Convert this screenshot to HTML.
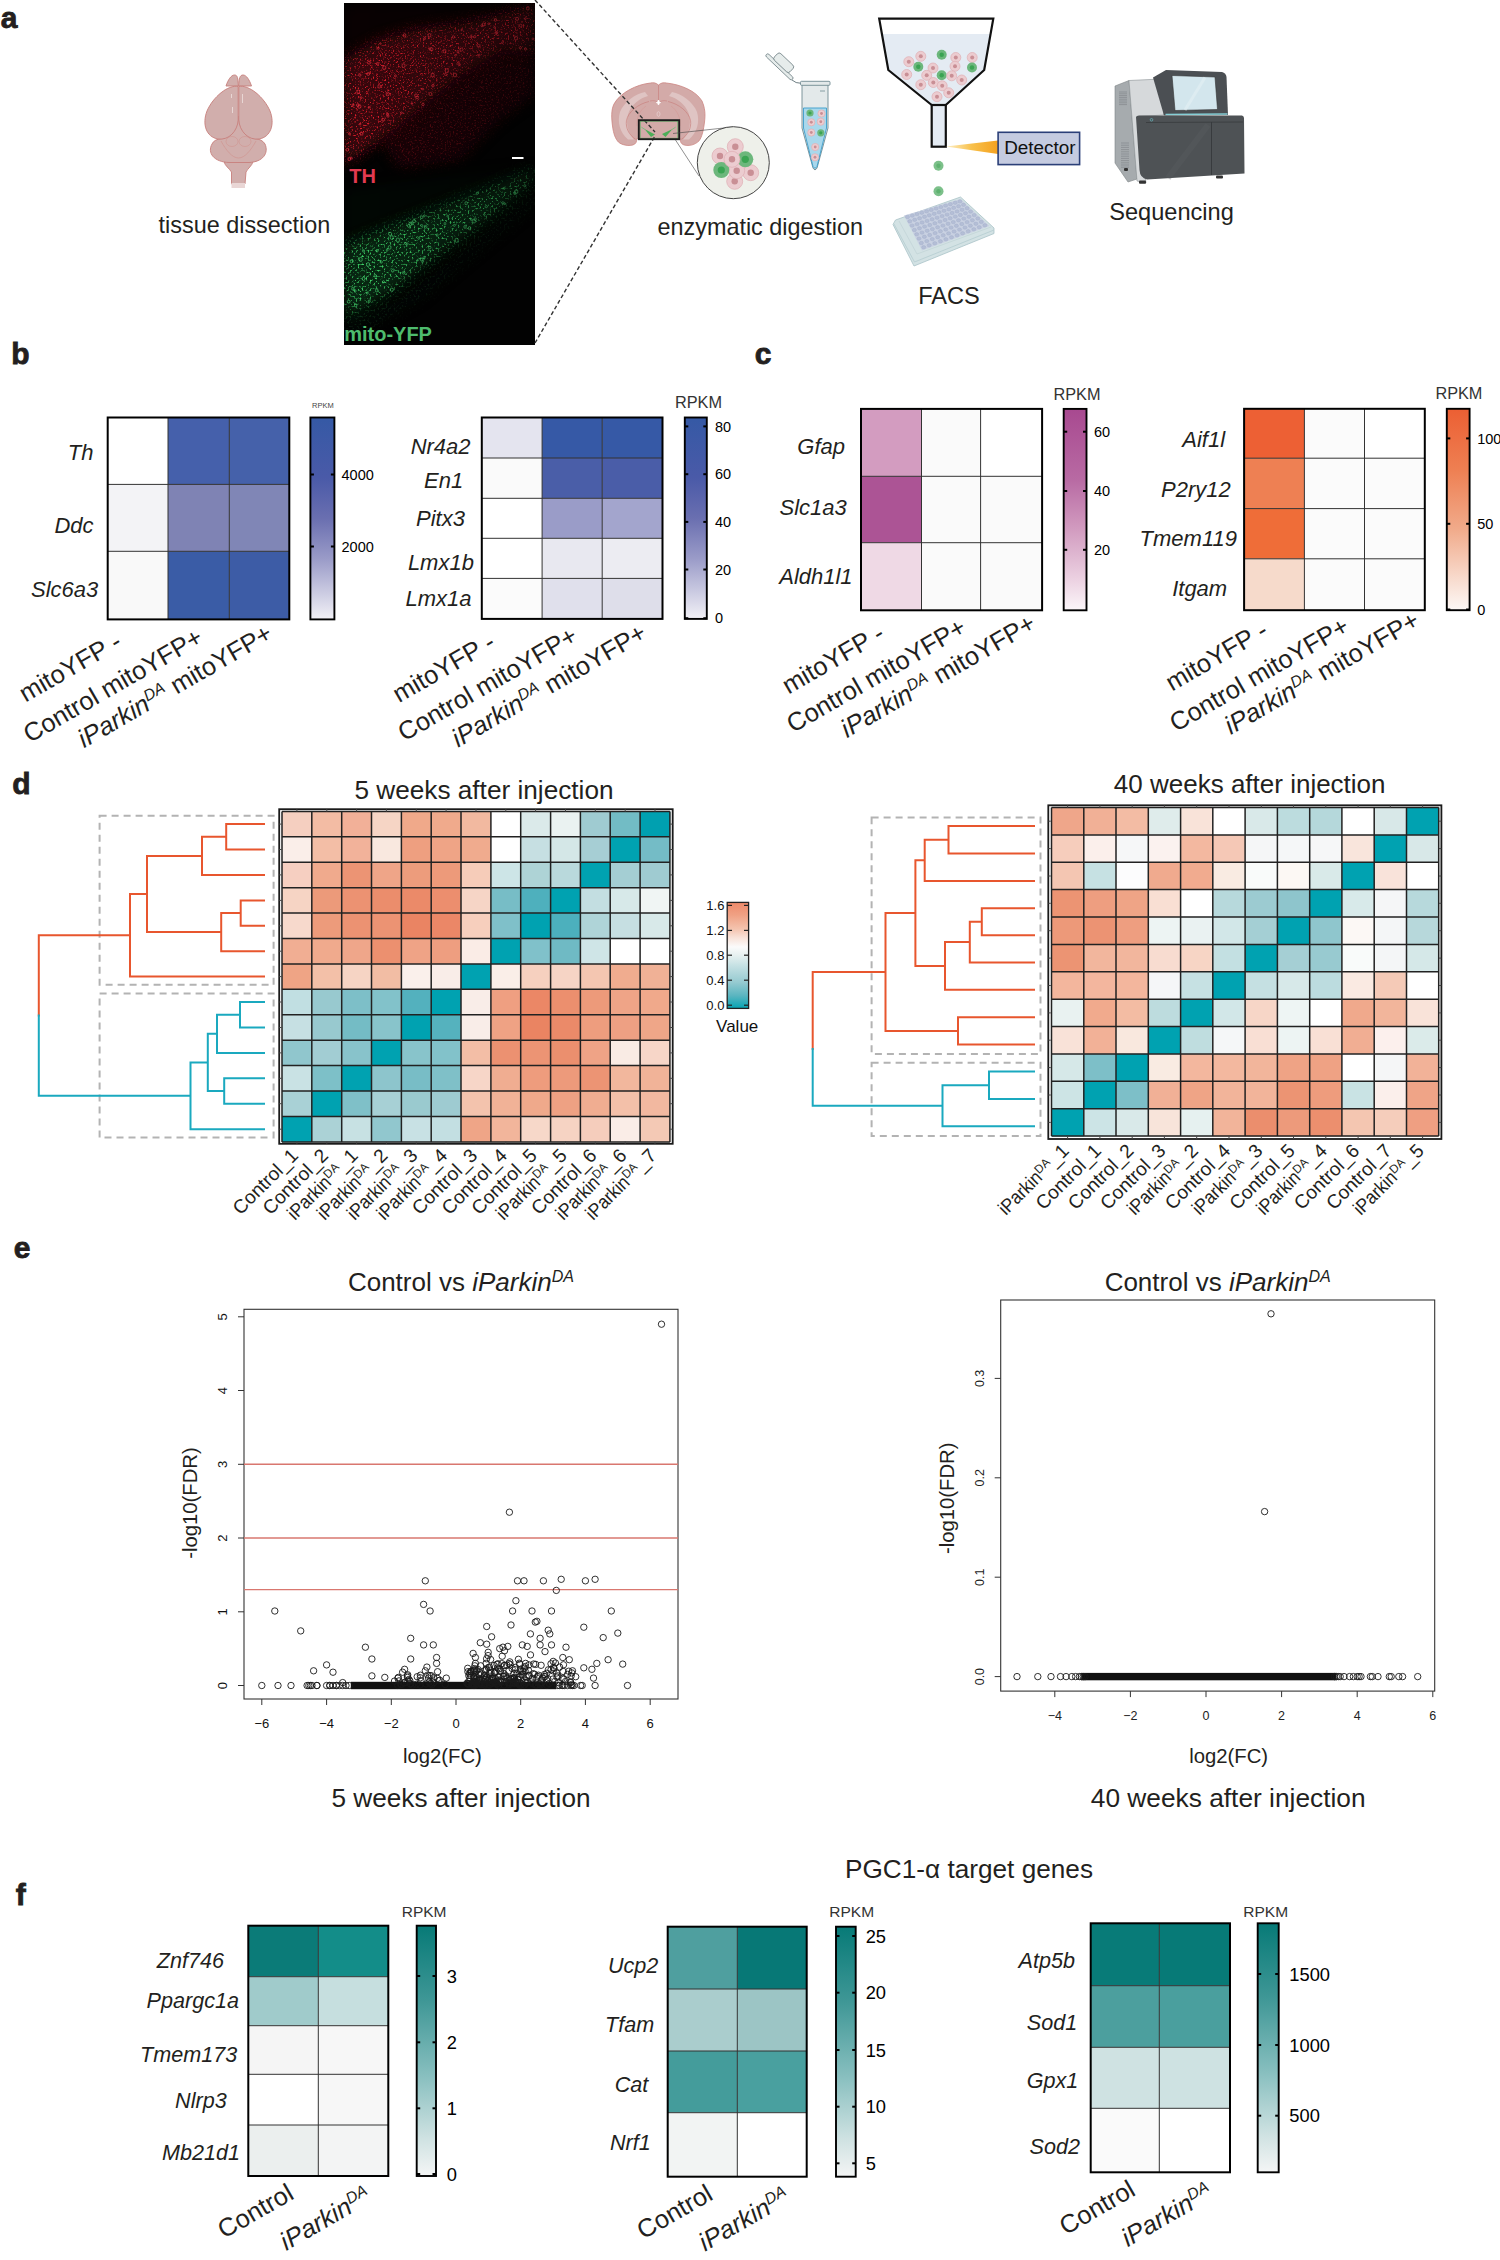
<!DOCTYPE html>
<html><head><meta charset="utf-8"><style>
html,body{margin:0;padding:0;background:#fff;}
svg{display:block;}
text{font-family:"Liberation Sans", sans-serif;fill:#231f20;}
</style></head><body>
<svg width="1500" height="2260" viewBox="0 0 1500 2260">
<rect width="1500" height="2260" fill="#fff"/>
<text x="0.8" y="28.2" font-size="30" font-weight="bold" stroke="#231f20" stroke-width="0.8">a</text>
<text x="11.3" y="363.7" font-size="30" font-weight="bold" stroke="#231f20" stroke-width="0.8">b</text>
<text x="754.8" y="363.7" font-size="30" font-weight="bold" stroke="#231f20" stroke-width="0.8">c</text>
<text x="12.3" y="793.7" font-size="30" font-weight="bold" stroke="#231f20" stroke-width="0.8">d</text>
<text x="13.8" y="1257.7" font-size="30" font-weight="bold" stroke="#231f20" stroke-width="0.8">e</text>
<text x="15.8" y="1904.7" font-size="30" font-weight="bold" stroke="#231f20" stroke-width="0.8">f</text>
<rect x="107.7" y="417.5" width="60.3" height="66.9" fill="#ffffff"/>
<rect x="168.0" y="417.5" width="61.3" height="66.9" fill="#4560ab"/>
<rect x="229.3" y="417.5" width="60.0" height="66.9" fill="#4561aa"/>
<rect x="107.7" y="484.4" width="60.3" height="66.9" fill="#f3f3f6"/>
<rect x="168.0" y="484.4" width="61.3" height="66.9" fill="#7f83b4"/>
<rect x="229.3" y="484.4" width="60.0" height="66.9" fill="#8086b6"/>
<rect x="107.7" y="551.3" width="60.3" height="68.1" fill="#f9f9f9"/>
<rect x="168.0" y="551.3" width="61.3" height="68.1" fill="#3a5ca6"/>
<rect x="229.3" y="551.3" width="60.0" height="68.1" fill="#3d5ca6"/>
<line x1="168.0" y1="417.5" x2="168.0" y2="619.4" stroke="#333" stroke-width="1"/>
<line x1="229.3" y1="417.5" x2="229.3" y2="619.4" stroke="#333" stroke-width="1"/>
<line x1="107.7" y1="484.4" x2="289.3" y2="484.4" stroke="#333" stroke-width="1"/>
<line x1="107.7" y1="551.3" x2="289.3" y2="551.3" stroke="#333" stroke-width="1"/>
<rect x="107.7" y="417.5" width="181.6" height="201.9" fill="none" stroke="#000" stroke-width="2.0"/>
<defs><linearGradient id="cb1" x1="0" y1="0" x2="0" y2="1">
<stop offset="0" stop-color="#3559a5"/>
<stop offset="0.3" stop-color="#4a5aa8"/>
<stop offset="0.5" stop-color="#6a6fb0"/>
<stop offset="0.7" stop-color="#9a9bc8"/>
<stop offset="1" stop-color="#f2f1f6"/>
</linearGradient></defs>
<rect x="310.4" y="417.5" width="24.0" height="201.9" fill="url(#cb1)" stroke="#000" stroke-width="1.9"/>
<line x1="310.4" y1="474.5" x2="313.9" y2="474.5" stroke="#000" stroke-width="2"/>
<line x1="330.9" y1="474.5" x2="334.4" y2="474.5" stroke="#000" stroke-width="2"/>
<text x="341.5" y="479.7" font-size="14.5" style="fill:#000">4000</text>
<line x1="310.4" y1="546.5" x2="313.9" y2="546.5" stroke="#000" stroke-width="2"/>
<line x1="330.9" y1="546.5" x2="334.4" y2="546.5" stroke="#000" stroke-width="2"/>
<text x="341.5" y="551.7" font-size="14.5" style="fill:#000">2000</text>
<text x="312.0" y="407.5" font-size="7.5" style="fill:#444">RPKM</text>
<text x="93.5" y="459.8" font-size="22" text-anchor="end" font-style="italic">Th</text>
<text x="93.5" y="532.8" font-size="22" text-anchor="end" font-style="italic">Ddc</text>
<text x="98.3" y="596.6" font-size="22" text-anchor="end" font-style="italic">Slc6a3</text>
<rect x="481.8" y="417.5" width="60.3" height="40.5" fill="#e4e4ef"/>
<rect x="542.1" y="417.5" width="60.1" height="40.5" fill="#3659a6"/>
<rect x="602.2" y="417.5" width="60.3" height="40.5" fill="#3659a6"/>
<rect x="481.8" y="458.0" width="60.3" height="40.3" fill="#fafafa"/>
<rect x="542.1" y="458.0" width="60.1" height="40.3" fill="#4a5ea8"/>
<rect x="602.2" y="458.0" width="60.3" height="40.3" fill="#4a5da8"/>
<rect x="481.8" y="498.3" width="60.3" height="40.0" fill="#ffffff"/>
<rect x="542.1" y="498.3" width="60.1" height="40.0" fill="#9a9cc8"/>
<rect x="602.2" y="498.3" width="60.3" height="40.0" fill="#a3a5cd"/>
<rect x="481.8" y="538.3" width="60.3" height="40.1" fill="#ffffff"/>
<rect x="542.1" y="538.3" width="60.1" height="40.1" fill="#e8e8f0"/>
<rect x="602.2" y="538.3" width="60.3" height="40.1" fill="#ececf2"/>
<rect x="481.8" y="578.4" width="60.3" height="40.5" fill="#fbfbfb"/>
<rect x="542.1" y="578.4" width="60.1" height="40.5" fill="#e0e0ec"/>
<rect x="602.2" y="578.4" width="60.3" height="40.5" fill="#dedeea"/>
<line x1="542.1" y1="417.5" x2="542.1" y2="618.9" stroke="#333" stroke-width="1"/>
<line x1="602.2" y1="417.5" x2="602.2" y2="618.9" stroke="#333" stroke-width="1"/>
<line x1="481.8" y1="458.0" x2="662.5" y2="458.0" stroke="#333" stroke-width="1"/>
<line x1="481.8" y1="498.3" x2="662.5" y2="498.3" stroke="#333" stroke-width="1"/>
<line x1="481.8" y1="538.3" x2="662.5" y2="538.3" stroke="#333" stroke-width="1"/>
<line x1="481.8" y1="578.4" x2="662.5" y2="578.4" stroke="#333" stroke-width="1"/>
<rect x="481.8" y="417.5" width="180.7" height="201.4" fill="none" stroke="#000" stroke-width="2.0"/>
<defs><linearGradient id="cb2" x1="0" y1="0" x2="0" y2="1">
<stop offset="0" stop-color="#3559a5"/>
<stop offset="0.3" stop-color="#4a5aa8"/>
<stop offset="0.5" stop-color="#6a6fb0"/>
<stop offset="0.7" stop-color="#9a9bc8"/>
<stop offset="1" stop-color="#f2f1f6"/>
</linearGradient></defs>
<rect x="684.8" y="417.5" width="22.0" height="201.4" fill="url(#cb2)" stroke="#000" stroke-width="1.9"/>
<line x1="684.8" y1="426.4" x2="688.3" y2="426.4" stroke="#000" stroke-width="2"/>
<line x1="703.3" y1="426.4" x2="706.8" y2="426.4" stroke="#000" stroke-width="2"/>
<text x="715.0" y="431.6" font-size="14.5" style="fill:#000">80</text>
<line x1="684.8" y1="474.2" x2="688.3" y2="474.2" stroke="#000" stroke-width="2"/>
<line x1="703.3" y1="474.2" x2="706.8" y2="474.2" stroke="#000" stroke-width="2"/>
<text x="715.0" y="479.4" font-size="14.5" style="fill:#000">60</text>
<line x1="684.8" y1="521.9" x2="688.3" y2="521.9" stroke="#000" stroke-width="2"/>
<line x1="703.3" y1="521.9" x2="706.8" y2="521.9" stroke="#000" stroke-width="2"/>
<text x="715.0" y="527.1" font-size="14.5" style="fill:#000">40</text>
<line x1="684.8" y1="569.5" x2="688.3" y2="569.5" stroke="#000" stroke-width="2"/>
<line x1="703.3" y1="569.5" x2="706.8" y2="569.5" stroke="#000" stroke-width="2"/>
<text x="715.0" y="574.7" font-size="14.5" style="fill:#000">20</text>
<line x1="684.8" y1="618.2" x2="688.3" y2="618.2" stroke="#000" stroke-width="2"/>
<line x1="703.3" y1="618.2" x2="706.8" y2="618.2" stroke="#000" stroke-width="2"/>
<text x="715.0" y="623.4" font-size="14.5" style="fill:#000">0</text>
<text x="675.0" y="407.9" font-size="16.3" style="fill:#333">RPKM</text>
<text x="440.6" y="453.5" font-size="22" text-anchor="middle" font-style="italic">Nr4a2</text>
<text x="443.6" y="488.4" font-size="22" text-anchor="middle" font-style="italic">En1</text>
<text x="440.5" y="525.7" font-size="22" text-anchor="middle" font-style="italic">Pitx3</text>
<text x="440.9" y="569.5" font-size="22" text-anchor="middle" font-style="italic">Lmx1b</text>
<text x="438.6" y="606.0" font-size="22" text-anchor="middle" font-style="italic">Lmx1a</text>
<text x="123.3" y="646.4" font-size="25.5" text-anchor="end" transform="rotate(-30 123.3 646.4)">mitoYFP -</text>
<text x="204.6" y="642.4" font-size="25.5" text-anchor="end" transform="rotate(-30 204.6 642.4)">Control mitoYFP+</text>
<text x="274.3" y="638.4" font-size="25.5" text-anchor="end" transform="rotate(-30 274.3 638.4)"><tspan font-style="italic">iParkin</tspan><tspan font-style="italic" font-size="0.62em" dy="-0.55em">DA</tspan><tspan dy="0.34em"> mitoYFP+</tspan></text>
<text x="496.9" y="646.9" font-size="25.5" text-anchor="end" transform="rotate(-30 496.9 646.9)">mitoYFP -</text>
<text x="579.1" y="640.9" font-size="25.5" text-anchor="end" transform="rotate(-30 579.1 640.9)">Control mitoYFP+</text>
<text x="648.3" y="637.9" font-size="25.5" text-anchor="end" transform="rotate(-30 648.3 637.9)"><tspan font-style="italic">iParkin</tspan><tspan font-style="italic" font-size="0.62em" dy="-0.55em">DA</tspan><tspan dy="0.34em"> mitoYFP+</tspan></text>
<rect x="861.0" y="408.9" width="60.5" height="67.4" fill="#d39cc0"/>
<rect x="921.5" y="408.9" width="59.1" height="67.4" fill="#fafafa"/>
<rect x="980.6" y="408.9" width="61.5" height="67.4" fill="#ffffff"/>
<rect x="861.0" y="476.3" width="60.5" height="66.4" fill="#ac5495"/>
<rect x="921.5" y="476.3" width="59.1" height="66.4" fill="#fafafa"/>
<rect x="980.6" y="476.3" width="61.5" height="66.4" fill="#fafafa"/>
<rect x="861.0" y="542.7" width="60.5" height="67.6" fill="#efd9e5"/>
<rect x="921.5" y="542.7" width="59.1" height="67.6" fill="#fafafa"/>
<rect x="980.6" y="542.7" width="61.5" height="67.6" fill="#fafafa"/>
<line x1="921.5" y1="408.9" x2="921.5" y2="610.3" stroke="#333" stroke-width="1"/>
<line x1="980.6" y1="408.9" x2="980.6" y2="610.3" stroke="#333" stroke-width="1"/>
<line x1="861.0" y1="476.3" x2="1042.1" y2="476.3" stroke="#333" stroke-width="1"/>
<line x1="861.0" y1="542.7" x2="1042.1" y2="542.7" stroke="#333" stroke-width="1"/>
<rect x="861.0" y="408.9" width="181.1" height="201.4" fill="none" stroke="#000" stroke-width="2.0"/>
<defs><linearGradient id="cb3" x1="0" y1="0" x2="0" y2="1">
<stop offset="0" stop-color="#a84990"/>
<stop offset="0.35" stop-color="#b86aa3"/>
<stop offset="0.6" stop-color="#d29cc0"/>
<stop offset="0.85" stop-color="#ecd2e2"/>
<stop offset="1" stop-color="#fbf6f9"/>
</linearGradient></defs>
<rect x="1063.7" y="408.9" width="22.8" height="201.4" fill="url(#cb3)" stroke="#000" stroke-width="1.9"/>
<line x1="1063.7" y1="431.7" x2="1067.2" y2="431.7" stroke="#000" stroke-width="2"/>
<line x1="1083.0" y1="431.7" x2="1086.5" y2="431.7" stroke="#000" stroke-width="2"/>
<text x="1094.0" y="436.9" font-size="14.5" style="fill:#000">60</text>
<line x1="1063.7" y1="491.0" x2="1067.2" y2="491.0" stroke="#000" stroke-width="2"/>
<line x1="1083.0" y1="491.0" x2="1086.5" y2="491.0" stroke="#000" stroke-width="2"/>
<text x="1094.0" y="496.2" font-size="14.5" style="fill:#000">40</text>
<line x1="1063.7" y1="549.8" x2="1067.2" y2="549.8" stroke="#000" stroke-width="2"/>
<line x1="1083.0" y1="549.8" x2="1086.5" y2="549.8" stroke="#000" stroke-width="2"/>
<text x="1094.0" y="555.0" font-size="14.5" style="fill:#000">20</text>
<text x="1053.5" y="399.5" font-size="16.3" style="fill:#333">RPKM</text>
<text x="845.0" y="453.5" font-size="22" text-anchor="end" font-style="italic">Gfap</text>
<text x="846.8" y="514.8" font-size="22" text-anchor="end" font-style="italic">Slc1a3</text>
<text x="852.6" y="583.7" font-size="22" text-anchor="end" font-style="italic">Aldh1l1</text>
<rect x="1244.1" y="408.8" width="60.3" height="49.4" fill="#ed6034"/>
<rect x="1304.4" y="408.8" width="60.1" height="49.4" fill="#fbfbfb"/>
<rect x="1364.5" y="408.8" width="60.3" height="49.4" fill="#ffffff"/>
<rect x="1244.1" y="458.2" width="60.3" height="50.4" fill="#ee8053"/>
<rect x="1304.4" y="458.2" width="60.1" height="50.4" fill="#fbfbfb"/>
<rect x="1364.5" y="458.2" width="60.3" height="50.4" fill="#fbfbfb"/>
<rect x="1244.1" y="508.6" width="60.3" height="50.2" fill="#ef6d38"/>
<rect x="1304.4" y="508.6" width="60.1" height="50.2" fill="#fbfbfb"/>
<rect x="1364.5" y="508.6" width="60.3" height="50.2" fill="#fbfbfb"/>
<rect x="1244.1" y="558.8" width="60.3" height="51.4" fill="#f6dacb"/>
<rect x="1304.4" y="558.8" width="60.1" height="51.4" fill="#fbfbfb"/>
<rect x="1364.5" y="558.8" width="60.3" height="51.4" fill="#fbfbfb"/>
<line x1="1304.4" y1="408.8" x2="1304.4" y2="610.2" stroke="#333" stroke-width="1"/>
<line x1="1364.5" y1="408.8" x2="1364.5" y2="610.2" stroke="#333" stroke-width="1"/>
<line x1="1244.1" y1="458.2" x2="1424.8" y2="458.2" stroke="#333" stroke-width="1"/>
<line x1="1244.1" y1="508.6" x2="1424.8" y2="508.6" stroke="#333" stroke-width="1"/>
<line x1="1244.1" y1="558.8" x2="1424.8" y2="558.8" stroke="#333" stroke-width="1"/>
<rect x="1244.1" y="408.8" width="180.7" height="201.4" fill="none" stroke="#000" stroke-width="2.0"/>
<defs><linearGradient id="cb4" x1="0" y1="0" x2="0" y2="1">
<stop offset="0" stop-color="#ec5f33"/>
<stop offset="0.3" stop-color="#ee7f52"/>
<stop offset="0.6" stop-color="#f1ab8b"/>
<stop offset="0.85" stop-color="#f8dccf"/>
<stop offset="1" stop-color="#fdf8f6"/>
</linearGradient></defs>
<rect x="1446.8" y="408.8" width="22.8" height="201.4" fill="url(#cb4)" stroke="#000" stroke-width="1.9"/>
<line x1="1446.8" y1="438.4" x2="1450.3" y2="438.4" stroke="#000" stroke-width="2"/>
<line x1="1466.1" y1="438.4" x2="1469.6" y2="438.4" stroke="#000" stroke-width="2"/>
<text x="1477.2" y="443.6" font-size="14.5" style="fill:#000">100</text>
<line x1="1446.8" y1="523.8" x2="1450.3" y2="523.8" stroke="#000" stroke-width="2"/>
<line x1="1466.1" y1="523.8" x2="1469.6" y2="523.8" stroke="#000" stroke-width="2"/>
<text x="1477.2" y="529.0" font-size="14.5" style="fill:#000">50</text>
<line x1="1446.8" y1="609.5" x2="1450.3" y2="609.5" stroke="#000" stroke-width="2"/>
<line x1="1466.1" y1="609.5" x2="1469.6" y2="609.5" stroke="#000" stroke-width="2"/>
<text x="1477.2" y="614.7" font-size="14.5" style="fill:#000">0</text>
<text x="1435.4" y="399.1" font-size="16.3" style="fill:#333">RPKM</text>
<text x="1225.1" y="447.3" font-size="22" text-anchor="end" font-style="italic">Aif1l</text>
<text x="1230.7" y="496.7" font-size="22" text-anchor="end" font-style="italic">P2ry12</text>
<text x="1237.0" y="546.0" font-size="22" text-anchor="end" font-style="italic">Tmem119</text>
<text x="1227.2" y="596.2" font-size="22" text-anchor="end" font-style="italic">Itgam</text>
<text x="886.2" y="638.3" font-size="25.5" text-anchor="end" transform="rotate(-30 886.2 638.3)">mitoYFP -</text>
<text x="968.0" y="632.3" font-size="25.5" text-anchor="end" transform="rotate(-30 968.0 632.3)">Control mitoYFP+</text>
<text x="1037.3" y="628.3" font-size="25.5" text-anchor="end" transform="rotate(-30 1037.3 628.3)"><tspan font-style="italic">iParkin</tspan><tspan font-style="italic" font-size="0.62em" dy="-0.55em">DA</tspan><tspan dy="0.34em"> mitoYFP+</tspan></text>
<text x="1269.7" y="635.2" font-size="25.5" text-anchor="end" transform="rotate(-30 1269.7 635.2)">mitoYFP -</text>
<text x="1350.9" y="631.2" font-size="25.5" text-anchor="end" transform="rotate(-30 1350.9 631.2)">Control mitoYFP+</text>
<text x="1421.1" y="625.2" font-size="25.5" text-anchor="end" transform="rotate(-30 1421.1 625.2)"><tspan font-style="italic">iParkin</tspan><tspan font-style="italic" font-size="0.62em" dy="-0.55em">DA</tspan><tspan dy="0.34em"> mitoYFP+</tspan></text>
<rect x="248.3" y="1925.7" width="70.0" height="51.0" fill="#0b7b78"/>
<rect x="318.3" y="1925.7" width="70.0" height="51.0" fill="#138d89"/>
<rect x="248.3" y="1976.7" width="70.0" height="49.0" fill="#a0cbcb"/>
<rect x="318.3" y="1976.7" width="70.0" height="49.0" fill="#c6dfdf"/>
<rect x="248.3" y="2025.7" width="70.0" height="48.6" fill="#f5f5f5"/>
<rect x="318.3" y="2025.7" width="70.0" height="48.6" fill="#f7f7f7"/>
<rect x="248.3" y="2074.3" width="70.0" height="50.7" fill="#ffffff"/>
<rect x="318.3" y="2074.3" width="70.0" height="50.7" fill="#f7f7f7"/>
<rect x="248.3" y="2125.0" width="70.0" height="51.0" fill="#ebefee"/>
<rect x="318.3" y="2125.0" width="70.0" height="51.0" fill="#f3f4f4"/>
<line x1="318.3" y1="1925.7" x2="318.3" y2="2176.0" stroke="#333" stroke-width="1"/>
<line x1="248.3" y1="1976.7" x2="388.3" y2="1976.7" stroke="#333" stroke-width="1"/>
<line x1="248.3" y1="2025.7" x2="388.3" y2="2025.7" stroke="#333" stroke-width="1"/>
<line x1="248.3" y1="2074.3" x2="388.3" y2="2074.3" stroke="#333" stroke-width="1"/>
<line x1="248.3" y1="2125.0" x2="388.3" y2="2125.0" stroke="#333" stroke-width="1"/>
<rect x="248.3" y="1925.7" width="140.0" height="250.3" fill="none" stroke="#000" stroke-width="2.0"/>
<defs><linearGradient id="cb5" x1="0" y1="0" x2="0" y2="1">
<stop offset="0" stop-color="#077a77"/>
<stop offset="0.3" stop-color="#3f9796"/>
<stop offset="0.6" stop-color="#88bfbf"/>
<stop offset="0.85" stop-color="#cfe2e2"/>
<stop offset="1" stop-color="#f4f5f5"/>
</linearGradient></defs>
<rect x="416.7" y="1925.7" width="19.3" height="250.3" fill="url(#cb5)" stroke="#000" stroke-width="1.9"/>
<line x1="416.7" y1="1976.0" x2="420.2" y2="1976.0" stroke="#000" stroke-width="2"/>
<line x1="432.5" y1="1976.0" x2="436.0" y2="1976.0" stroke="#000" stroke-width="2"/>
<text x="446.7" y="1982.6" font-size="18.3" style="fill:#000">3</text>
<line x1="416.7" y1="2042.3" x2="420.2" y2="2042.3" stroke="#000" stroke-width="2"/>
<line x1="432.5" y1="2042.3" x2="436.0" y2="2042.3" stroke="#000" stroke-width="2"/>
<text x="446.7" y="2048.9" font-size="18.3" style="fill:#000">2</text>
<line x1="416.7" y1="2108.3" x2="420.2" y2="2108.3" stroke="#000" stroke-width="2"/>
<line x1="432.5" y1="2108.3" x2="436.0" y2="2108.3" stroke="#000" stroke-width="2"/>
<text x="446.7" y="2114.9" font-size="18.3" style="fill:#000">1</text>
<line x1="416.7" y1="2174.0" x2="420.2" y2="2174.0" stroke="#000" stroke-width="2"/>
<line x1="432.5" y1="2174.0" x2="436.0" y2="2174.0" stroke="#000" stroke-width="2"/>
<text x="446.7" y="2180.6" font-size="18.3" style="fill:#000">0</text>
<text x="401.7" y="1916.7" font-size="15.5" style="fill:#333">RPKM</text>
<text x="224.0" y="1967.7" font-size="21.6" text-anchor="end" font-style="italic">Znf746</text>
<text x="239.0" y="2008.3" font-size="21.6" text-anchor="end" font-style="italic">Ppargc1a</text>
<text x="237.3" y="2062.3" font-size="21.6" text-anchor="end" font-style="italic">Tmem173</text>
<text x="226.7" y="2107.7" font-size="21.6" text-anchor="end" font-style="italic">Nlrp3</text>
<text x="240.0" y="2160.0" font-size="21.6" text-anchor="end" font-style="italic">Mb21d1</text>
<rect x="667.7" y="1926.7" width="69.6" height="62.3" fill="#4f9f9f"/>
<rect x="737.3" y="1926.7" width="69.4" height="62.3" fill="#077876"/>
<rect x="667.7" y="1989.0" width="69.6" height="62.0" fill="#aacdcd"/>
<rect x="737.3" y="1989.0" width="69.4" height="62.0" fill="#9cc5c5"/>
<rect x="667.7" y="2051.0" width="69.6" height="61.7" fill="#449c9b"/>
<rect x="737.3" y="2051.0" width="69.4" height="61.7" fill="#49a09f"/>
<rect x="667.7" y="2112.7" width="69.6" height="64.0" fill="#f2f4f3"/>
<rect x="737.3" y="2112.7" width="69.4" height="64.0" fill="#ffffff"/>
<line x1="737.3" y1="1926.7" x2="737.3" y2="2176.7" stroke="#333" stroke-width="1"/>
<line x1="667.7" y1="1989.0" x2="806.7" y2="1989.0" stroke="#333" stroke-width="1"/>
<line x1="667.7" y1="2051.0" x2="806.7" y2="2051.0" stroke="#333" stroke-width="1"/>
<line x1="667.7" y1="2112.7" x2="806.7" y2="2112.7" stroke="#333" stroke-width="1"/>
<rect x="667.7" y="1926.7" width="139.0" height="250.0" fill="none" stroke="#000" stroke-width="2.0"/>
<defs><linearGradient id="cb6" x1="0" y1="0" x2="0" y2="1">
<stop offset="0" stop-color="#077a77"/>
<stop offset="0.3" stop-color="#3f9796"/>
<stop offset="0.6" stop-color="#88bfbf"/>
<stop offset="0.85" stop-color="#cfe2e2"/>
<stop offset="1" stop-color="#f4f5f5"/>
</linearGradient></defs>
<rect x="836.0" y="1926.7" width="19.7" height="250.0" fill="url(#cb6)" stroke="#000" stroke-width="1.9"/>
<line x1="836.0" y1="1936.0" x2="839.5" y2="1936.0" stroke="#000" stroke-width="2"/>
<line x1="852.2" y1="1936.0" x2="855.7" y2="1936.0" stroke="#000" stroke-width="2"/>
<text x="865.7" y="1942.6" font-size="18.3" style="fill:#000">25</text>
<line x1="836.0" y1="1992.7" x2="839.5" y2="1992.7" stroke="#000" stroke-width="2"/>
<line x1="852.2" y1="1992.7" x2="855.7" y2="1992.7" stroke="#000" stroke-width="2"/>
<text x="865.7" y="1999.3" font-size="18.3" style="fill:#000">20</text>
<line x1="836.0" y1="2050.0" x2="839.5" y2="2050.0" stroke="#000" stroke-width="2"/>
<line x1="852.2" y1="2050.0" x2="855.7" y2="2050.0" stroke="#000" stroke-width="2"/>
<text x="865.7" y="2056.6" font-size="18.3" style="fill:#000">15</text>
<line x1="836.0" y1="2106.7" x2="839.5" y2="2106.7" stroke="#000" stroke-width="2"/>
<line x1="852.2" y1="2106.7" x2="855.7" y2="2106.7" stroke="#000" stroke-width="2"/>
<text x="865.7" y="2113.3" font-size="18.3" style="fill:#000">10</text>
<line x1="836.0" y1="2163.3" x2="839.5" y2="2163.3" stroke="#000" stroke-width="2"/>
<line x1="852.2" y1="2163.3" x2="855.7" y2="2163.3" stroke="#000" stroke-width="2"/>
<text x="865.7" y="2169.9" font-size="18.3" style="fill:#000">5</text>
<text x="829.3" y="1916.7" font-size="15.5" style="fill:#333">RPKM</text>
<text x="658.3" y="1973.3" font-size="21.6" text-anchor="end" font-style="italic">Ucp2</text>
<text x="654.3" y="2032.3" font-size="21.6" text-anchor="end" font-style="italic">Tfam</text>
<text x="648.3" y="2092.3" font-size="21.6" text-anchor="end" font-style="italic">Cat</text>
<text x="650.7" y="2150.0" font-size="21.6" text-anchor="end" font-style="italic">Nrf1</text>
<rect x="1090.7" y="1923.3" width="68.6" height="62.4" fill="#087b78"/>
<rect x="1159.3" y="1923.3" width="70.7" height="62.4" fill="#077a77"/>
<rect x="1090.7" y="1985.7" width="68.6" height="61.6" fill="#4c9f9e"/>
<rect x="1159.3" y="1985.7" width="70.7" height="61.6" fill="#4a9f9e"/>
<rect x="1090.7" y="2047.3" width="68.6" height="61.0" fill="#cfe2e2"/>
<rect x="1159.3" y="2047.3" width="70.7" height="61.0" fill="#cee2e2"/>
<rect x="1090.7" y="2108.3" width="68.6" height="64.0" fill="#fafafa"/>
<rect x="1159.3" y="2108.3" width="70.7" height="64.0" fill="#ffffff"/>
<line x1="1159.3" y1="1923.3" x2="1159.3" y2="2172.3" stroke="#333" stroke-width="1"/>
<line x1="1090.7" y1="1985.7" x2="1230.0" y2="1985.7" stroke="#333" stroke-width="1"/>
<line x1="1090.7" y1="2047.3" x2="1230.0" y2="2047.3" stroke="#333" stroke-width="1"/>
<line x1="1090.7" y1="2108.3" x2="1230.0" y2="2108.3" stroke="#333" stroke-width="1"/>
<rect x="1090.7" y="1923.3" width="139.3" height="249.0" fill="none" stroke="#000" stroke-width="2.0"/>
<defs><linearGradient id="cb7" x1="0" y1="0" x2="0" y2="1">
<stop offset="0" stop-color="#077a77"/>
<stop offset="0.3" stop-color="#3f9796"/>
<stop offset="0.6" stop-color="#88bfbf"/>
<stop offset="0.85" stop-color="#cfe2e2"/>
<stop offset="1" stop-color="#f4f5f5"/>
</linearGradient></defs>
<rect x="1257.7" y="1923.3" width="21.0" height="249.0" fill="url(#cb7)" stroke="#000" stroke-width="1.9"/>
<line x1="1257.7" y1="1974.0" x2="1261.2" y2="1974.0" stroke="#000" stroke-width="2"/>
<line x1="1275.2" y1="1974.0" x2="1278.7" y2="1974.0" stroke="#000" stroke-width="2"/>
<text x="1289.3" y="1980.6" font-size="18.3" style="fill:#000">1500</text>
<line x1="1257.7" y1="2045.0" x2="1261.2" y2="2045.0" stroke="#000" stroke-width="2"/>
<line x1="1275.2" y1="2045.0" x2="1278.7" y2="2045.0" stroke="#000" stroke-width="2"/>
<text x="1289.3" y="2051.6" font-size="18.3" style="fill:#000">1000</text>
<line x1="1257.7" y1="2115.7" x2="1261.2" y2="2115.7" stroke="#000" stroke-width="2"/>
<line x1="1275.2" y1="2115.7" x2="1278.7" y2="2115.7" stroke="#000" stroke-width="2"/>
<text x="1289.3" y="2122.3" font-size="18.3" style="fill:#000">500</text>
<text x="1243.3" y="1916.7" font-size="15.5" style="fill:#333">RPKM</text>
<text x="1075.0" y="1967.7" font-size="21.6" text-anchor="end" font-style="italic">Atp5b</text>
<text x="1077.3" y="2030.0" font-size="21.6" text-anchor="end" font-style="italic">Sod1</text>
<text x="1078.3" y="2088.3" font-size="21.6" text-anchor="end" font-style="italic">Gpx1</text>
<text x="1080.0" y="2154.0" font-size="21.6" text-anchor="end" font-style="italic">Sod2</text>
<text x="969.0" y="1878.3" font-size="26.2" text-anchor="middle">PGC1-α target genes</text>
<text x="295.3" y="2198.0" font-size="25.5" text-anchor="end" transform="rotate(-30 295.3 2198.0)">Control</text>
<text x="372.8" y="2201.0" font-size="25.5" text-anchor="end" transform="rotate(-30 372.8 2201.0)"><tspan font-style="italic">iParkin</tspan><tspan font-style="italic" font-size="0.62em" dy="-0.55em">DA</tspan></text>
<text x="714.5" y="2198.7" font-size="25.5" text-anchor="end" transform="rotate(-30 714.5 2198.7)">Control</text>
<text x="791.5" y="2201.7" font-size="25.5" text-anchor="end" transform="rotate(-30 791.5 2201.7)"><tspan font-style="italic">iParkin</tspan><tspan font-style="italic" font-size="0.62em" dy="-0.55em">DA</tspan></text>
<text x="1137.0" y="2194.3" font-size="25.5" text-anchor="end" transform="rotate(-30 1137.0 2194.3)">Control</text>
<text x="1214.2" y="2197.3" font-size="25.5" text-anchor="end" transform="rotate(-30 1214.2 2197.3)"><tspan font-style="italic">iParkin</tspan><tspan font-style="italic" font-size="0.62em" dy="-0.55em">DA</tspan></text>
<g stroke="#c77f7c" stroke-width="0.9" fill="#d1aeac">
<path d="M224 161.5 L253 161.5 C252 166 248 168 246 172 L245 184 L231.5 184 L231.5 172 C229 168 225 166 224 161.5 Z"/>
<rect x="231.5" y="183" width="13.5" height="5" fill="#e9d6d5" stroke="none"/>
<path d="M212 144 C207 153 214 162 229 162.5 L249 162.5 C263 162 269 153 265 144 C261 137 250 138 238.5 139 C227 138 215 137 212 144 Z"/>
<path d="M221 141 C226 150 232 158 238.5 158 C245 158 251 150 256 141" fill="none" stroke="#d09591" stroke-width="0.7"/>
<path d="M227 116 L250 116 L254 141 L223 141 Z" stroke="none"/>
<ellipse cx="232" cy="141.5" rx="6" ry="5" stroke="#d09591" stroke-width="0.6"/>
<ellipse cx="245" cy="141.5" rx="6" ry="5" stroke="#d09591" stroke-width="0.6"/>
<path d="M226 86 C228 80 231 75 234.5 75 C237.5 75 238 78 238.3 86 Z"/>
<path d="M251.5 86 C249.5 80 246.5 75 243 75 C240 75 239 78 238.7 86 Z"/>
<path d="M238.2 86.5 C228 84.5 213 97 207 111 C202 124 206 137 218 139 C229 140.5 237.5 131 238.2 120 Z"/>
<path d="M238.8 86.5 C249 84.5 264 97 270 111 C275 124 271 137 259 139 C248 140.5 239.5 131 238.8 120 Z"/>
</g>
<path d="M231.5 94 v4 M232.5 107 v6 M242.5 94 v9" stroke="#f2e6e5" stroke-width="0.7"/>
<defs>
<filter id="nzR" x="0" y="0" width="100%" height="100%" color-interpolation-filters="sRGB">
<feTurbulence type="fractalNoise" baseFrequency="0.6" numOctaves="3" seed="4" result="t"/>
<feColorMatrix in="t" type="matrix" values="0 0 0 0 0.92  0 0 0 0 0.12  0 0 0 0 0.18  4.2 0 0 0 -2.3"/>
<feComposite in2="SourceGraphic" operator="in"/>
</filter>
<filter id="nzG" x="0" y="0" width="100%" height="100%" color-interpolation-filters="sRGB">
<feTurbulence type="fractalNoise" baseFrequency="0.5" numOctaves="3" seed="9" result="t"/>
<feColorMatrix in="t" type="matrix" values="0 0 0 0 0.25  0 0 0 0 0.85  0 0 0 0 0.42  4.6 0 0 0 -2.45"/>
<feComposite in2="SourceGraphic" operator="in"/>
</filter>
<filter id="bl6" x="-20%" y="-20%" width="140%" height="140%"><feGaussianBlur stdDeviation="7"/></filter>
<linearGradient id="fadeL" x1="0" y1="0" x2="1" y2="0"><stop offset="0" stop-color="#fff" stop-opacity="1"/><stop offset="1" stop-color="#fff" stop-opacity="0.55"/></linearGradient>
<mask id="mL"><rect x="344" y="3" width="191" height="342" fill="url(#fadeL)"/></mask>
<mask id="mR" maskUnits="userSpaceOnUse" x="344" y="3" width="191" height="342"><path d="M344 60 L380 40 L420 29 L460 24 L493 17 L535 5 L535 52 L500 50 L487 60 L460 75 L420 107 L380 140 L344 164 Z" fill="#fff" filter="url(#bl6)"/><path d="M420 107 L460 75 L500 50 L535 52 L535 95 L500 120 L460 160 L400 168 L380 140 Z" fill="#555" filter="url(#bl6)"/></mask>
<mask id="mG" maskUnits="userSpaceOnUse" x="344" y="3" width="191" height="342"><path d="M344 247 L387 229 L420 216 L460 200 L493 187 L535 169 L535 178 L507 204 L487 220 L460 240 L427 264 L393 291 L344 318 Z" fill="#fff" filter="url(#bl6)"/><path d="M344 320 L400 300 L450 262 L500 218 L535 188 L535 205 L480 250 L420 300 L360 332 L344 335 Z" fill="#333" filter="url(#bl6)"/></mask>
</defs>
<rect x="344" y="3" width="191" height="342" fill="#020202"/>
<g mask="url(#mL)">
<path d="M344 5 L535 3 L535 8 L440 28 L344 55 Z" fill="#3a0509" filter="url(#bl6)" opacity="0.15"/>
<path d="M420 107 L460 75 L500 50 L535 52 L535 95 L500 120 L460 160 L400 168 L380 140 Z" fill="#3a0509" filter="url(#bl6)" opacity="0.45"/>
<path d="M344 60 L380 40 L420 29 L460 24 L493 17 L535 5 L535 52 L500 50 L487 60 L460 75 L420 107 L380 140 L344 164 Z" fill="#5e0a12" filter="url(#bl6)" opacity="0.6"/>
<path d="M344 190 L450 176 L535 168 L535 172 L500 188 L450 209 L400 226 L344 250 Z" fill="#06200f" filter="url(#bl6)" opacity="0.2"/>
<path d="M344 247 L387 229 L420 216 L460 200 L493 187 L535 169 L535 178 L507 204 L487 220 L460 240 L427 264 L393 291 L344 318 Z" fill="#0c4a22" filter="url(#bl6)" opacity="0.55"/>
<path d="M344 320 L400 300 L450 262 L500 218 L535 188 L535 205 L480 250 L420 300 L360 332 L344 335 Z" fill="#06200f" filter="url(#bl6)" opacity="0.2"/>
<g mask="url(#mR)"><rect x="344" y="3" width="191" height="180" fill="#fff" filter="url(#nzR)"/></g>
<g mask="url(#mG)"><rect x="344" y="160" width="191" height="185" fill="#fff" filter="url(#nzG)"/></g>
<path d="M428.9 94.0a1.5 1.5 0 1 0 3.1 0a1.5 1.5 0 1 0 -3.1 0M431.7 85.7a1.2 1.2 0 1 0 2.5 0a1.2 1.2 0 1 0 -2.5 0M378.0 86.4a1.3 1.3 0 1 0 2.5 0a1.3 1.3 0 1 0 -2.5 0M494.5 20.0a1.0 1.0 0 1 0 1.9 0a1.0 1.0 0 1 0 -1.9 0M360.0 133.7a1.3 1.3 0 1 0 2.6 0a1.3 1.3 0 1 0 -2.6 0M460.9 30.0a0.7 0.7 0 1 0 1.4 0a0.7 0.7 0 1 0 -1.4 0M379.6 43.5a0.7 0.7 0 1 0 1.5 0a0.7 0.7 0 1 0 -1.5 0M431.2 75.0a1.5 1.5 0 1 0 2.9 0a1.5 1.5 0 1 0 -2.9 0M429.8 49.2a1.6 1.6 0 1 0 3.2 0a1.6 1.6 0 1 0 -3.2 0M478.3 55.1a0.9 0.9 0 1 0 1.8 0a0.9 0.9 0 1 0 -1.8 0M356.5 105.1a1.4 1.4 0 1 0 2.8 0a1.4 1.4 0 1 0 -2.8 0M487.9 23.8a0.9 0.9 0 1 0 1.8 0a0.9 0.9 0 1 0 -1.8 0M495.0 33.3a1.2 1.2 0 1 0 2.4 0a1.2 1.2 0 1 0 -2.4 0M428.1 35.3a1.4 1.4 0 1 0 2.7 0a1.4 1.4 0 1 0 -2.7 0M368.2 107.4a0.8 0.8 0 1 0 1.6 0a0.8 0.8 0 1 0 -1.6 0M423.4 38.8a0.9 0.9 0 1 0 1.9 0a0.9 0.9 0 1 0 -1.9 0M382.8 67.7a1.5 1.5 0 1 0 2.9 0a1.5 1.5 0 1 0 -2.9 0M532.0 38.9a0.9 0.9 0 1 0 1.9 0a0.9 0.9 0 1 0 -1.9 0M360.3 97.7a0.9 0.9 0 1 0 1.8 0a0.9 0.9 0 1 0 -1.8 0M457.7 64.1a1.1 1.1 0 1 0 2.2 0a1.1 1.1 0 1 0 -2.2 0M350.5 158.1a0.9 0.9 0 1 0 1.8 0a0.9 0.9 0 1 0 -1.8 0M477.1 45.9a1.4 1.4 0 1 0 2.9 0a1.4 1.4 0 1 0 -2.9 0M457.1 51.7a0.9 0.9 0 1 0 1.7 0a0.9 0.9 0 1 0 -1.7 0M386.2 93.9a1.5 1.5 0 1 0 2.9 0a1.5 1.5 0 1 0 -2.9 0M459.8 49.6a1.5 1.5 0 1 0 3.1 0a1.5 1.5 0 1 0 -3.1 0M394.7 75.9a0.8 0.8 0 1 0 1.5 0a0.8 0.8 0 1 0 -1.5 0M376.4 63.6a1.2 1.2 0 1 0 2.4 0a1.2 1.2 0 1 0 -2.4 0M367.6 62.6a1.5 1.5 0 1 0 3.0 0a1.5 1.5 0 1 0 -3.0 0M346.1 149.7a1.3 1.3 0 1 0 2.7 0a1.3 1.3 0 1 0 -2.7 0M526.6 8.4a1.3 1.3 0 1 0 2.5 0a1.3 1.3 0 1 0 -2.5 0M357.0 91.8a1.4 1.4 0 1 0 2.7 0a1.4 1.4 0 1 0 -2.7 0M415.8 97.6a1.2 1.2 0 1 0 2.5 0a1.2 1.2 0 1 0 -2.5 0M357.7 106.7a1.6 1.6 0 1 0 3.2 0a1.6 1.6 0 1 0 -3.2 0M453.5 75.0a1.5 1.5 0 1 0 2.9 0a1.5 1.5 0 1 0 -2.9 0M359.3 124.3a0.7 0.7 0 1 0 1.5 0a0.7 0.7 0 1 0 -1.5 0M386.8 116.0a1.1 1.1 0 1 0 2.3 0a1.1 1.1 0 1 0 -2.3 0M400.6 112.8a0.9 0.9 0 1 0 1.8 0a0.9 0.9 0 1 0 -1.8 0M470.1 36.6a1.1 1.1 0 1 0 2.2 0a1.1 1.1 0 1 0 -2.2 0M454.6 55.3a0.8 0.8 0 1 0 1.6 0a0.8 0.8 0 1 0 -1.6 0M524.6 49.0a0.9 0.9 0 1 0 1.7 0a0.9 0.9 0 1 0 -1.7 0M429.2 48.8a0.9 0.9 0 1 0 1.8 0a0.9 0.9 0 1 0 -1.8 0M421.9 104.5a1.1 1.1 0 1 0 2.3 0a1.1 1.1 0 1 0 -2.3 0M501.6 42.7a0.8 0.8 0 1 0 1.7 0a0.8 0.8 0 1 0 -1.7 0M351.9 105.0a1.1 1.1 0 1 0 2.2 0a1.1 1.1 0 1 0 -2.2 0M473.6 36.7a1.1 1.1 0 1 0 2.3 0a1.1 1.1 0 1 0 -2.3 0M377.2 48.3a1.0 1.0 0 1 0 2.0 0a1.0 1.0 0 1 0 -2.0 0M515.6 18.9a1.5 1.5 0 1 0 3.1 0a1.5 1.5 0 1 0 -3.1 0M480.9 25.7a1.1 1.1 0 1 0 2.2 0a1.1 1.1 0 1 0 -2.2 0M414.5 95.4a1.5 1.5 0 1 0 3.0 0a1.5 1.5 0 1 0 -3.0 0M381.7 119.8a1.4 1.4 0 1 0 2.9 0a1.4 1.4 0 1 0 -2.9 0M358.6 75.1a1.2 1.2 0 1 0 2.4 0a1.2 1.2 0 1 0 -2.4 0M348.7 133.7a0.8 0.8 0 1 0 1.5 0a0.8 0.8 0 1 0 -1.5 0M495.8 32.5a1.0 1.0 0 1 0 2.0 0a1.0 1.0 0 1 0 -2.0 0M493.7 27.3a0.8 0.8 0 1 0 1.7 0a0.8 0.8 0 1 0 -1.7 0M524.4 18.7a0.9 0.9 0 1 0 1.8 0a0.9 0.9 0 1 0 -1.8 0M443.2 51.1a1.4 1.4 0 1 0 2.7 0a1.4 1.4 0 1 0 -2.7 0M402.1 65.6a1.5 1.5 0 1 0 2.9 0a1.5 1.5 0 1 0 -2.9 0M514.5 38.1a1.5 1.5 0 1 0 2.9 0a1.5 1.5 0 1 0 -2.9 0M452.3 37.0a1.2 1.2 0 1 0 2.4 0a1.2 1.2 0 1 0 -2.4 0M348.1 159.1a1.2 1.2 0 1 0 2.3 0a1.2 1.2 0 1 0 -2.3 0M445.3 70.8a1.6 1.6 0 1 0 3.1 0a1.6 1.6 0 1 0 -3.1 0M519.2 47.8a1.1 1.1 0 1 0 2.3 0a1.1 1.1 0 1 0 -2.3 0M366.8 74.0a1.4 1.4 0 1 0 2.9 0a1.4 1.4 0 1 0 -2.9 0M403.3 35.4a1.3 1.3 0 1 0 2.5 0a1.3 1.3 0 1 0 -2.5 0M519.3 25.6a1.4 1.4 0 1 0 2.8 0a1.4 1.4 0 1 0 -2.8 0M386.4 114.2a1.0 1.0 0 1 0 2.0 0a1.0 1.0 0 1 0 -2.0 0M411.1 103.5a0.8 0.8 0 1 0 1.6 0a0.8 0.8 0 1 0 -1.6 0M482.4 24.5a1.2 1.2 0 1 0 2.3 0a1.2 1.2 0 1 0 -2.3 0M444.3 74.4a1.0 1.0 0 1 0 2.1 0a1.0 1.0 0 1 0 -2.1 0M422.1 89.2a0.8 0.8 0 1 0 1.7 0a0.8 0.8 0 1 0 -1.7 0" fill="none" stroke="#f03040" stroke-width="0.8" opacity="0.85"/>
<path d="M354.5 291.0a0.8 0.8 0 1 0 1.5 0a0.8 0.8 0 1 0 -1.5 0M474.1 219.2a1.1 1.1 0 1 0 2.1 0a1.1 1.1 0 1 0 -2.1 0M354.5 305.3a1.2 1.2 0 1 0 2.3 0a1.2 1.2 0 1 0 -2.3 0M523.7 185.8a1.1 1.1 0 1 0 2.2 0a1.1 1.1 0 1 0 -2.2 0M375.6 290.5a1.1 1.1 0 1 0 2.1 0a1.1 1.1 0 1 0 -2.1 0M422.9 257.8a1.1 1.1 0 1 0 2.3 0a1.1 1.1 0 1 0 -2.3 0M410.7 223.1a1.3 1.3 0 1 0 2.6 0a1.3 1.3 0 1 0 -2.6 0M424.2 226.8a1.4 1.4 0 1 0 2.8 0a1.4 1.4 0 1 0 -2.8 0M362.7 250.9a0.9 0.9 0 1 0 1.7 0a0.9 0.9 0 1 0 -1.7 0M396.3 240.0a1.6 1.6 0 1 0 3.1 0a1.6 1.6 0 1 0 -3.1 0M350.1 261.2a1.6 1.6 0 1 0 3.2 0a1.6 1.6 0 1 0 -3.2 0M465.0 203.2a1.2 1.2 0 1 0 2.3 0a1.2 1.2 0 1 0 -2.3 0M513.9 193.2a1.0 1.0 0 1 0 1.9 0a1.0 1.0 0 1 0 -1.9 0M391.4 270.8a1.3 1.3 0 1 0 2.6 0a1.3 1.3 0 1 0 -2.6 0M368.1 301.1a1.1 1.1 0 1 0 2.2 0a1.1 1.1 0 1 0 -2.2 0M388.5 233.9a1.6 1.6 0 1 0 3.2 0a1.6 1.6 0 1 0 -3.2 0M409.0 223.9a1.4 1.4 0 1 0 2.7 0a1.4 1.4 0 1 0 -2.7 0M420.4 217.2a1.3 1.3 0 1 0 2.6 0a1.3 1.3 0 1 0 -2.6 0M402.3 272.7a1.4 1.4 0 1 0 2.8 0a1.4 1.4 0 1 0 -2.8 0M436.3 235.1a0.9 0.9 0 1 0 1.7 0a0.9 0.9 0 1 0 -1.7 0M470.6 219.8a0.9 0.9 0 1 0 1.8 0a0.9 0.9 0 1 0 -1.8 0M476.2 193.2a1.1 1.1 0 1 0 2.2 0a1.1 1.1 0 1 0 -2.2 0M390.3 237.5a1.5 1.5 0 1 0 2.9 0a1.5 1.5 0 1 0 -2.9 0M501.7 202.9a1.2 1.2 0 1 0 2.4 0a1.2 1.2 0 1 0 -2.4 0M472.7 221.2a1.4 1.4 0 1 0 2.7 0a1.4 1.4 0 1 0 -2.7 0M404.5 243.5a1.0 1.0 0 1 0 2.0 0a1.0 1.0 0 1 0 -2.0 0M386.2 250.1a0.9 0.9 0 1 0 1.9 0a0.9 0.9 0 1 0 -1.9 0M351.8 288.7a1.0 1.0 0 1 0 1.9 0a1.0 1.0 0 1 0 -1.9 0M366.6 264.5a1.5 1.5 0 1 0 2.9 0a1.5 1.5 0 1 0 -2.9 0M421.8 261.1a0.9 0.9 0 1 0 1.9 0a0.9 0.9 0 1 0 -1.9 0M420.7 225.6a1.0 1.0 0 1 0 2.1 0a1.0 1.0 0 1 0 -2.1 0M483.5 214.5a0.8 0.8 0 1 0 1.6 0a0.8 0.8 0 1 0 -1.6 0M374.2 275.7a1.0 1.0 0 1 0 1.9 0a1.0 1.0 0 1 0 -1.9 0M428.4 247.6a1.3 1.3 0 1 0 2.6 0a1.3 1.3 0 1 0 -2.6 0M464.0 226.9a1.1 1.1 0 1 0 2.1 0a1.1 1.1 0 1 0 -2.1 0M420.1 259.5a1.4 1.4 0 1 0 2.8 0a1.4 1.4 0 1 0 -2.8 0M503.5 188.3a0.8 0.8 0 1 0 1.5 0a0.8 0.8 0 1 0 -1.5 0M382.4 281.8a1.1 1.1 0 1 0 2.2 0a1.1 1.1 0 1 0 -2.2 0M446.8 216.1a0.9 0.9 0 1 0 1.8 0a0.9 0.9 0 1 0 -1.8 0M359.1 259.4a1.6 1.6 0 1 0 3.1 0a1.6 1.6 0 1 0 -3.1 0M407.4 225.9a1.5 1.5 0 1 0 3.0 0a1.5 1.5 0 1 0 -3.0 0M380.0 262.0a1.2 1.2 0 1 0 2.4 0a1.2 1.2 0 1 0 -2.4 0M416.8 260.2a0.8 0.8 0 1 0 1.6 0a0.8 0.8 0 1 0 -1.6 0M485.2 206.6a1.1 1.1 0 1 0 2.2 0a1.1 1.1 0 1 0 -2.2 0M362.3 278.8a1.3 1.3 0 1 0 2.5 0a1.3 1.3 0 1 0 -2.5 0M375.8 250.7a1.2 1.2 0 1 0 2.5 0a1.2 1.2 0 1 0 -2.5 0M453.3 225.4a1.0 1.0 0 1 0 2.0 0a1.0 1.0 0 1 0 -2.0 0M406.0 243.9a1.1 1.1 0 1 0 2.2 0a1.1 1.1 0 1 0 -2.2 0M412.6 221.1a1.5 1.5 0 1 0 3.1 0a1.5 1.5 0 1 0 -3.1 0M468.4 228.2a1.2 1.2 0 1 0 2.3 0a1.2 1.2 0 1 0 -2.3 0M390.2 289.7a1.6 1.6 0 1 0 3.2 0a1.6 1.6 0 1 0 -3.2 0M503.8 203.7a0.9 0.9 0 1 0 1.8 0a0.9 0.9 0 1 0 -1.8 0M455.1 240.3a1.6 1.6 0 1 0 3.1 0a1.6 1.6 0 1 0 -3.1 0M417.8 238.3a1.0 1.0 0 1 0 2.0 0a1.0 1.0 0 1 0 -2.0 0M388.3 247.4a1.4 1.4 0 1 0 2.7 0a1.4 1.4 0 1 0 -2.7 0M347.3 301.7a1.4 1.4 0 1 0 2.8 0a1.4 1.4 0 1 0 -2.8 0M514.9 191.6a1.5 1.5 0 1 0 2.9 0a1.5 1.5 0 1 0 -2.9 0M423.4 215.8a0.9 0.9 0 1 0 1.9 0a0.9 0.9 0 1 0 -1.9 0M366.2 293.0a1.0 1.0 0 1 0 2.1 0a1.0 1.0 0 1 0 -2.1 0M444.1 223.7a0.9 0.9 0 1 0 1.7 0a0.9 0.9 0 1 0 -1.7 0" fill="none" stroke="#48d070" stroke-width="0.8" opacity="0.85"/>
</g>
<rect x="512" y="157" width="11.5" height="2" fill="#fff"/>
<text x="349.2" y="182.7" font-size="20" font-weight="bold" style="fill:#e23a50">TH</text>
<text x="344.2" y="341.0" font-size="20" font-weight="bold" style="fill:#4ebb6d">mito-YFP</text>
<g>
<path d="M658.5 85.1 C656 82.5 653 82.6 650.6 83 C636 84.5 620 93 614 104 C611 110 611.5 118 612.5 126 C613.5 134 615.5 139 618.6 142.2 C622 145 628 146.2 632.8 145 C636 144 637 141.5 636.4 138.6 L680.6 138.6 C680 141.5 681 144 684.2 145 C689 146.2 695 145 699.1 140.8 C702 137 703.5 130 704.5 122 C705.5 114 705 108 702 101 C696 91 681 84.5 666.3 83 C664 82.6 661 82.5 658.5 85.1 Z" fill="#d3aaa8" stroke="#cc8581" stroke-width="0.8"/>
<path d="M645 92 C635 94 624 102 620 112 C617 122 620 133 628 139.5 L634 139.5 C627 132 625.5 121 628.5 113 C632 104 640 98 648 96 Z" fill="#dfc4c3"/>
<path d="M672 92 C682 94 693 102 697 112 C700 122 697 133 689 139.5 L683 139.5 C690 132 691.5 121 688.5 113 C685 104 677 98 669 96 Z" fill="#dfc4c3"/>
<path d="M649 101.5 C638 104 628 112 626.4 120.8 C625.5 128 629 135 635.7 139.3 M668 101.5 C679 104 689 112 690.6 120.8 C691.5 128 688 135 681.3 139.3" fill="none" stroke="#c98280" stroke-width="0.7"/>
<path d="M646 106 C640 110 636 118 637 126 M671 106 C677 110 681 118 680 126" fill="none" stroke="#d49896" stroke-width="0.6"/>
<path d="M658.5 85.1 L658.5 100.8" stroke="#c98280" stroke-width="0.7"/>
<path d="M650 101 C654 100 656 101 658.5 102.6 C661 101 663 100 667 101" fill="none" stroke="#c98280" stroke-width="0.6"/>
<path d="M658.5 100 L659.6 102.6 L658.5 105 L657.4 102.6 Z M656 102.6 L661 102.6" fill="#fff" stroke="#fff" stroke-width="0.8"/>
<ellipse cx="658.5" cy="114" rx="1.5" ry="2.3" fill="none" stroke="#e7d3d2" stroke-width="0.7"/>
</g>
<path d="M535 0 L655 132 M535 343 L655 136" stroke="#333" stroke-width="1.4" stroke-dasharray="4 2.5" fill="none"/>
<rect x="640.2" y="121.2" width="37.6" height="17.0" fill="none" stroke="#58b060" stroke-width="0.7"/>
<path d="M644.5 129 L655 134.5 L651 137 Z M672.5 129 L662 134 L665.5 137 Z" fill="#4cae58"/>
<path d="M641.4 127.2 L645 129.5 M675.6 127.2 L672 129.5" stroke="#6cc07a" stroke-width="0.8"/>
<rect x="638.8" y="120.2" width="40.4" height="19.0" fill="none" stroke="#1c1c1c" stroke-width="1.9"/>
<path d="M673 133.5 L733 127 M675.5 140 L699 176" stroke="#444" stroke-width="0.6" fill="none"/>
<circle cx="733.3" cy="162.7" r="36" fill="#eef0ea" stroke="#444" stroke-width="1"/>
<circle cx="720" cy="156" r="8" fill="#ecccd0" stroke="#dfb2b7" stroke-width="0.8"/><circle cx="720" cy="156" r="3.20" fill="#c98f95"/>
<circle cx="735.3" cy="146.7" r="8" fill="#ecccd0" stroke="#dfb2b7" stroke-width="0.8"/><circle cx="735.3" cy="146.7" r="3.20" fill="#c98f95"/>
<circle cx="750.7" cy="172.7" r="8" fill="#ecccd0" stroke="#dfb2b7" stroke-width="0.8"/><circle cx="750.7" cy="172.7" r="3.20" fill="#c98f95"/>
<circle cx="734.7" cy="181.3" r="8" fill="#ecccd0" stroke="#dfb2b7" stroke-width="0.8"/><circle cx="734.7" cy="181.3" r="3.20" fill="#c98f95"/>
<circle cx="736.7" cy="170.7" r="8" fill="#ecccd0" stroke="#dfb2b7" stroke-width="0.8"/><circle cx="736.7" cy="170.7" r="3.20" fill="#c98f95"/>
<circle cx="745.3" cy="159.3" r="8" fill="#6cb77c"/><circle cx="745.3" cy="159.3" r="3.60" fill="#3aa453"/>
<circle cx="721.3" cy="170" r="8" fill="#6cb77c"/><circle cx="721.3" cy="170" r="3.60" fill="#3aa453"/>
<circle cx="732" cy="159.3" r="8" fill="#ecccd0" stroke="#dfb2b7" stroke-width="0.8"/><circle cx="732" cy="159.3" r="3.20" fill="#c98f95"/>
<g transform="translate(767.5 55.5) rotate(43.5)"><rect x="-1.5" y="-1.8" width="36" height="3.6" rx="1.8" fill="#e6eceb" stroke="#6f7f84" stroke-width="0.8"/><rect x="6" y="-10.5" width="21.5" height="9.2" rx="2.5" fill="#e6eceb" stroke="#6f7f84" stroke-width="0.8"/></g>
<path d="M792 80 Q796 83.5 800.5 83.2" fill="none" stroke="#6f7f84" stroke-width="1"/>
<path d="M802 84 L828 84 L828 128 L817 168 Q815 171.5 813 168 L802 128 Z" fill="#e3e9ea" stroke="#6f8a92" stroke-width="0.9"/>
<path d="M803.5 108 L826.5 108 L826.5 128 L817 166.5 Q815 170 813 166.5 L803.5 128 Z" fill="#a9d8ec" stroke="#3b9dcc" stroke-width="0.9"/>
<rect x="800.5" y="81.3" width="29.5" height="4" rx="1" fill="#e3e9ea" stroke="#6f8a92" stroke-width="0.9"/>
<path d="M820 91 h5" stroke="#6f8a92" stroke-width="0.8"/>
<circle cx="810" cy="113" r="3.6" fill="#6cb77c"/><circle cx="810" cy="113" r="1.62" fill="#3aa453"/>
<circle cx="821.5" cy="113.5" r="3.6" fill="#ecccd0" stroke="#dfb2b7" stroke-width="0.8"/><circle cx="821.5" cy="113.5" r="1.44" fill="#c98f95"/>
<circle cx="811.3" cy="122.3" r="3.6" fill="#ecccd0" stroke="#dfb2b7" stroke-width="0.8"/><circle cx="811.3" cy="122.3" r="1.44" fill="#c98f95"/>
<circle cx="820.8" cy="121.7" r="3.6" fill="#ecccd0" stroke="#dfb2b7" stroke-width="0.8"/><circle cx="820.8" cy="121.7" r="1.44" fill="#c98f95"/>
<circle cx="811.3" cy="132.5" r="3.6" fill="#ecccd0" stroke="#dfb2b7" stroke-width="0.8"/><circle cx="811.3" cy="132.5" r="1.44" fill="#c98f95"/>
<circle cx="820.8" cy="132.8" r="3.6" fill="#6cb77c"/><circle cx="820.8" cy="132.8" r="1.62" fill="#3aa453"/>
<circle cx="815.2" cy="147" r="3.6" fill="#ecccd0" stroke="#dfb2b7" stroke-width="0.8"/><circle cx="815.2" cy="147" r="1.44" fill="#c98f95"/>
<circle cx="815" cy="157.3" r="3.6" fill="#ecccd0" stroke="#dfb2b7" stroke-width="0.8"/><circle cx="815" cy="157.3" r="1.44" fill="#c98f95"/>
<path d="M879.2 18.7 L993.3 18.7 L984.2 70 L945.8 105 L931.7 105 L888.3 70 Z" fill="#fff"/>
<path d="M881.8 34 L990.6 34 L984.2 70 L945.8 105 L931.7 105 L888.3 70 Z" fill="#e4ebf3"/>
<rect x="931.7" y="105" width="14.1" height="41.7" fill="#e4ebf3" stroke="#111" stroke-width="2.2"/>
<path d="M879.2 18.7 L993.3 18.7 L984.2 70 L945.8 105 L931.7 105 L888.3 70 Z" fill="none" stroke="#111" stroke-width="2.2" stroke-linejoin="miter"/>
<circle cx="908.8" cy="61.7" r="5" fill="#ecccd0" stroke="#dfb2b7" stroke-width="0.8"/><circle cx="908.8" cy="61.7" r="2.00" fill="#c98f95"/>
<circle cx="920.8" cy="56.3" r="5" fill="#ecccd0" stroke="#dfb2b7" stroke-width="0.8"/><circle cx="920.8" cy="56.3" r="2.00" fill="#c98f95"/>
<circle cx="941.7" cy="54.7" r="5" fill="#6cb77c"/><circle cx="941.7" cy="54.7" r="2.25" fill="#3aa453"/>
<circle cx="955.8" cy="57.5" r="5" fill="#ecccd0" stroke="#dfb2b7" stroke-width="0.8"/><circle cx="955.8" cy="57.5" r="2.00" fill="#c98f95"/>
<circle cx="972.2" cy="57.5" r="5" fill="#ecccd0" stroke="#dfb2b7" stroke-width="0.8"/><circle cx="972.2" cy="57.5" r="2.00" fill="#c98f95"/>
<circle cx="918.3" cy="66.7" r="5" fill="#6cb77c"/><circle cx="918.3" cy="66.7" r="2.25" fill="#3aa453"/>
<circle cx="933" cy="68" r="5" fill="#ecccd0" stroke="#dfb2b7" stroke-width="0.8"/><circle cx="933" cy="68" r="2.00" fill="#c98f95"/>
<circle cx="955" cy="66.3" r="5" fill="#ecccd0" stroke="#dfb2b7" stroke-width="0.8"/><circle cx="955" cy="66.3" r="2.00" fill="#c98f95"/>
<circle cx="972" cy="67.5" r="5" fill="#6cb77c"/><circle cx="972" cy="67.5" r="2.25" fill="#3aa453"/>
<circle cx="906.7" cy="74.5" r="5" fill="#ecccd0" stroke="#dfb2b7" stroke-width="0.8"/><circle cx="906.7" cy="74.5" r="2.00" fill="#c98f95"/>
<circle cx="926.7" cy="75.3" r="5" fill="#ecccd0" stroke="#dfb2b7" stroke-width="0.8"/><circle cx="926.7" cy="75.3" r="2.00" fill="#c98f95"/>
<circle cx="941.7" cy="75.3" r="5" fill="#6cb77c"/><circle cx="941.7" cy="75.3" r="2.25" fill="#3aa453"/>
<circle cx="951.7" cy="75.8" r="5" fill="#ecccd0" stroke="#dfb2b7" stroke-width="0.8"/><circle cx="951.7" cy="75.8" r="2.00" fill="#c98f95"/>
<circle cx="961.7" cy="80" r="5" fill="#ecccd0" stroke="#dfb2b7" stroke-width="0.8"/><circle cx="961.7" cy="80" r="2.00" fill="#c98f95"/>
<circle cx="920.8" cy="84.7" r="5" fill="#ecccd0" stroke="#dfb2b7" stroke-width="0.8"/><circle cx="920.8" cy="84.7" r="2.00" fill="#c98f95"/>
<circle cx="933.3" cy="82.5" r="5" fill="#ecccd0" stroke="#dfb2b7" stroke-width="0.8"/><circle cx="933.3" cy="82.5" r="2.00" fill="#c98f95"/>
<circle cx="942.2" cy="85.8" r="5" fill="#ecccd0" stroke="#dfb2b7" stroke-width="0.8"/><circle cx="942.2" cy="85.8" r="2.00" fill="#c98f95"/>
<circle cx="948.7" cy="92.8" r="5" fill="#ecccd0" stroke="#dfb2b7" stroke-width="0.8"/><circle cx="948.7" cy="92.8" r="2.00" fill="#c98f95"/>
<circle cx="937" cy="96.7" r="5" fill="#ecccd0" stroke="#dfb2b7" stroke-width="0.8"/><circle cx="937" cy="96.7" r="2.00" fill="#c98f95"/>
<defs><linearGradient id="beam" x1="0" y1="0" x2="1" y2="0"><stop offset="0" stop-color="#fdf0c8"/><stop offset="0.5" stop-color="#f8c04a"/><stop offset="1" stop-color="#f4a11f"/></linearGradient></defs>
<path d="M946 146.5 L998 140.5 L998 154 Z" fill="url(#beam)"/>
<rect x="998.1" y="132.3" width="81.5" height="32.3" fill="#c5cbe0" stroke="#2b3f78" stroke-width="1.6"/>
<text x="1004.2" y="154.2" font-size="18.9" style="fill:#111">Detector</text>
<circle cx="938.5" cy="165.8" r="5" fill="#7cc08a"/><circle cx="938.5" cy="165.8" r="2.2" fill="#5fb270"/>
<circle cx="938.5" cy="191.3" r="5" fill="#7cc08a"/><circle cx="938.5" cy="191.3" r="2.2" fill="#5fb270"/>
<path d="M895.5 220 L960.5 197 L994 228 L994 233.5 L914 266 L893 224.5 Z" fill="#d3e2e4" stroke="#a9c3c8" stroke-width="0.8"/>
<path d="M894 224 L914.5 262 L994 230" fill="none" stroke="#b5cdd1" stroke-width="0.8"/>
<path d="M899 221 L917 254 L991 227" fill="none" stroke="#c0d3d6" stroke-width="0.7"/>
<path d="M904 215.5 L960.5 199 L989.5 226 L922 250.5 Z" fill="#c9d1e2"/>
<path d="M905.4 217.0a2.1 1.7 0 1 0 4.2 0a2.1 1.7 0 1 0 -4.2 0M910.2 215.6a2.1 1.7 0 1 0 4.2 0a2.1 1.7 0 1 0 -4.2 0M914.9 214.1a2.1 1.7 0 1 0 4.2 0a2.1 1.7 0 1 0 -4.2 0M919.7 212.7a2.1 1.7 0 1 0 4.2 0a2.1 1.7 0 1 0 -4.2 0M924.5 211.3a2.1 1.7 0 1 0 4.2 0a2.1 1.7 0 1 0 -4.2 0M929.2 209.9a2.1 1.7 0 1 0 4.2 0a2.1 1.7 0 1 0 -4.2 0M934.0 208.5a2.1 1.7 0 1 0 4.2 0a2.1 1.7 0 1 0 -4.2 0M938.8 207.1a2.1 1.7 0 1 0 4.2 0a2.1 1.7 0 1 0 -4.2 0M943.5 205.6a2.1 1.7 0 1 0 4.2 0a2.1 1.7 0 1 0 -4.2 0M948.3 204.2a2.1 1.7 0 1 0 4.2 0a2.1 1.7 0 1 0 -4.2 0M953.1 202.8a2.1 1.7 0 1 0 4.2 0a2.1 1.7 0 1 0 -4.2 0M957.8 201.4a2.1 1.7 0 1 0 4.2 0a2.1 1.7 0 1 0 -4.2 0M907.7 221.3a2.1 1.7 0 1 0 4.2 0a2.1 1.7 0 1 0 -4.2 0M912.6 219.8a2.1 1.7 0 1 0 4.2 0a2.1 1.7 0 1 0 -4.2 0M917.5 218.3a2.1 1.7 0 1 0 4.2 0a2.1 1.7 0 1 0 -4.2 0M922.4 216.8a2.1 1.7 0 1 0 4.2 0a2.1 1.7 0 1 0 -4.2 0M927.2 215.3a2.1 1.7 0 1 0 4.2 0a2.1 1.7 0 1 0 -4.2 0M932.1 213.8a2.1 1.7 0 1 0 4.2 0a2.1 1.7 0 1 0 -4.2 0M937.0 212.3a2.1 1.7 0 1 0 4.2 0a2.1 1.7 0 1 0 -4.2 0M941.9 210.8a2.1 1.7 0 1 0 4.2 0a2.1 1.7 0 1 0 -4.2 0M946.8 209.3a2.1 1.7 0 1 0 4.2 0a2.1 1.7 0 1 0 -4.2 0M951.6 207.8a2.1 1.7 0 1 0 4.2 0a2.1 1.7 0 1 0 -4.2 0M956.5 206.3a2.1 1.7 0 1 0 4.2 0a2.1 1.7 0 1 0 -4.2 0M961.4 204.8a2.1 1.7 0 1 0 4.2 0a2.1 1.7 0 1 0 -4.2 0M910.0 225.6a2.1 1.7 0 1 0 4.2 0a2.1 1.7 0 1 0 -4.2 0M915.0 224.1a2.1 1.7 0 1 0 4.2 0a2.1 1.7 0 1 0 -4.2 0M920.0 222.5a2.1 1.7 0 1 0 4.2 0a2.1 1.7 0 1 0 -4.2 0M925.0 220.9a2.1 1.7 0 1 0 4.2 0a2.1 1.7 0 1 0 -4.2 0M930.0 219.3a2.1 1.7 0 1 0 4.2 0a2.1 1.7 0 1 0 -4.2 0M935.0 217.7a2.1 1.7 0 1 0 4.2 0a2.1 1.7 0 1 0 -4.2 0M940.0 216.1a2.1 1.7 0 1 0 4.2 0a2.1 1.7 0 1 0 -4.2 0M945.0 214.6a2.1 1.7 0 1 0 4.2 0a2.1 1.7 0 1 0 -4.2 0M950.0 213.0a2.1 1.7 0 1 0 4.2 0a2.1 1.7 0 1 0 -4.2 0M955.0 211.4a2.1 1.7 0 1 0 4.2 0a2.1 1.7 0 1 0 -4.2 0M960.0 209.8a2.1 1.7 0 1 0 4.2 0a2.1 1.7 0 1 0 -4.2 0M965.0 208.2a2.1 1.7 0 1 0 4.2 0a2.1 1.7 0 1 0 -4.2 0M912.3 230.0a2.1 1.7 0 1 0 4.2 0a2.1 1.7 0 1 0 -4.2 0M917.4 228.3a2.1 1.7 0 1 0 4.2 0a2.1 1.7 0 1 0 -4.2 0M922.5 226.6a2.1 1.7 0 1 0 4.2 0a2.1 1.7 0 1 0 -4.2 0M927.7 225.0a2.1 1.7 0 1 0 4.2 0a2.1 1.7 0 1 0 -4.2 0M932.8 223.3a2.1 1.7 0 1 0 4.2 0a2.1 1.7 0 1 0 -4.2 0M937.9 221.6a2.1 1.7 0 1 0 4.2 0a2.1 1.7 0 1 0 -4.2 0M943.0 220.0a2.1 1.7 0 1 0 4.2 0a2.1 1.7 0 1 0 -4.2 0M948.1 218.3a2.1 1.7 0 1 0 4.2 0a2.1 1.7 0 1 0 -4.2 0M953.2 216.6a2.1 1.7 0 1 0 4.2 0a2.1 1.7 0 1 0 -4.2 0M958.3 215.0a2.1 1.7 0 1 0 4.2 0a2.1 1.7 0 1 0 -4.2 0M963.4 213.3a2.1 1.7 0 1 0 4.2 0a2.1 1.7 0 1 0 -4.2 0M968.5 211.6a2.1 1.7 0 1 0 4.2 0a2.1 1.7 0 1 0 -4.2 0M914.6 234.3a2.1 1.7 0 1 0 4.2 0a2.1 1.7 0 1 0 -4.2 0M919.9 232.6a2.1 1.7 0 1 0 4.2 0a2.1 1.7 0 1 0 -4.2 0M925.1 230.8a2.1 1.7 0 1 0 4.2 0a2.1 1.7 0 1 0 -4.2 0M930.3 229.1a2.1 1.7 0 1 0 4.2 0a2.1 1.7 0 1 0 -4.2 0M935.5 227.3a2.1 1.7 0 1 0 4.2 0a2.1 1.7 0 1 0 -4.2 0M940.8 225.6a2.1 1.7 0 1 0 4.2 0a2.1 1.7 0 1 0 -4.2 0M946.0 223.8a2.1 1.7 0 1 0 4.2 0a2.1 1.7 0 1 0 -4.2 0M951.2 222.1a2.1 1.7 0 1 0 4.2 0a2.1 1.7 0 1 0 -4.2 0M956.4 220.3a2.1 1.7 0 1 0 4.2 0a2.1 1.7 0 1 0 -4.2 0M961.7 218.6a2.1 1.7 0 1 0 4.2 0a2.1 1.7 0 1 0 -4.2 0M966.9 216.8a2.1 1.7 0 1 0 4.2 0a2.1 1.7 0 1 0 -4.2 0M972.1 215.1a2.1 1.7 0 1 0 4.2 0a2.1 1.7 0 1 0 -4.2 0M916.9 238.6a2.1 1.7 0 1 0 4.2 0a2.1 1.7 0 1 0 -4.2 0M922.3 236.8a2.1 1.7 0 1 0 4.2 0a2.1 1.7 0 1 0 -4.2 0M927.6 235.0a2.1 1.7 0 1 0 4.2 0a2.1 1.7 0 1 0 -4.2 0M933.0 233.1a2.1 1.7 0 1 0 4.2 0a2.1 1.7 0 1 0 -4.2 0M938.3 231.3a2.1 1.7 0 1 0 4.2 0a2.1 1.7 0 1 0 -4.2 0M943.6 229.5a2.1 1.7 0 1 0 4.2 0a2.1 1.7 0 1 0 -4.2 0M949.0 227.6a2.1 1.7 0 1 0 4.2 0a2.1 1.7 0 1 0 -4.2 0M954.3 225.8a2.1 1.7 0 1 0 4.2 0a2.1 1.7 0 1 0 -4.2 0M959.7 224.0a2.1 1.7 0 1 0 4.2 0a2.1 1.7 0 1 0 -4.2 0M965.0 222.1a2.1 1.7 0 1 0 4.2 0a2.1 1.7 0 1 0 -4.2 0M970.3 220.3a2.1 1.7 0 1 0 4.2 0a2.1 1.7 0 1 0 -4.2 0M975.7 218.5a2.1 1.7 0 1 0 4.2 0a2.1 1.7 0 1 0 -4.2 0M919.3 243.0a2.1 1.7 0 1 0 4.2 0a2.1 1.7 0 1 0 -4.2 0M924.7 241.1a2.1 1.7 0 1 0 4.2 0a2.1 1.7 0 1 0 -4.2 0M930.2 239.1a2.1 1.7 0 1 0 4.2 0a2.1 1.7 0 1 0 -4.2 0M935.6 237.2a2.1 1.7 0 1 0 4.2 0a2.1 1.7 0 1 0 -4.2 0M941.1 235.3a2.1 1.7 0 1 0 4.2 0a2.1 1.7 0 1 0 -4.2 0M946.5 233.4a2.1 1.7 0 1 0 4.2 0a2.1 1.7 0 1 0 -4.2 0M952.0 231.5a2.1 1.7 0 1 0 4.2 0a2.1 1.7 0 1 0 -4.2 0M957.4 229.6a2.1 1.7 0 1 0 4.2 0a2.1 1.7 0 1 0 -4.2 0M962.9 227.6a2.1 1.7 0 1 0 4.2 0a2.1 1.7 0 1 0 -4.2 0M968.3 225.7a2.1 1.7 0 1 0 4.2 0a2.1 1.7 0 1 0 -4.2 0M973.8 223.8a2.1 1.7 0 1 0 4.2 0a2.1 1.7 0 1 0 -4.2 0M979.2 221.9a2.1 1.7 0 1 0 4.2 0a2.1 1.7 0 1 0 -4.2 0M921.6 247.3a2.1 1.7 0 1 0 4.2 0a2.1 1.7 0 1 0 -4.2 0M927.1 245.3a2.1 1.7 0 1 0 4.2 0a2.1 1.7 0 1 0 -4.2 0M932.7 243.3a2.1 1.7 0 1 0 4.2 0a2.1 1.7 0 1 0 -4.2 0M938.3 241.3a2.1 1.7 0 1 0 4.2 0a2.1 1.7 0 1 0 -4.2 0M943.8 239.3a2.1 1.7 0 1 0 4.2 0a2.1 1.7 0 1 0 -4.2 0M949.4 237.3a2.1 1.7 0 1 0 4.2 0a2.1 1.7 0 1 0 -4.2 0M955.0 235.3a2.1 1.7 0 1 0 4.2 0a2.1 1.7 0 1 0 -4.2 0M960.5 233.3a2.1 1.7 0 1 0 4.2 0a2.1 1.7 0 1 0 -4.2 0M966.1 231.3a2.1 1.7 0 1 0 4.2 0a2.1 1.7 0 1 0 -4.2 0M971.7 229.3a2.1 1.7 0 1 0 4.2 0a2.1 1.7 0 1 0 -4.2 0M977.2 227.3a2.1 1.7 0 1 0 4.2 0a2.1 1.7 0 1 0 -4.2 0M982.8 225.3a2.1 1.7 0 1 0 4.2 0a2.1 1.7 0 1 0 -4.2 0" fill="#b4bed6" stroke="#9eabc8" stroke-width="0.4"/>
<path d="M1115 86 L1129 80.5 L1137 179 L1128 182 L1115 163 Z" fill="#a6abae" stroke="#7e8487" stroke-width="0.6"/>
<path d="M1129 80.5 L1161 79 L1164 115 L1137 116.5 L1146 183 L1137 181 Z" fill="#d6d9db" stroke="#8a9093" stroke-width="0.6"/>
<path d="M1153 77.5 L1166 70 L1222 72 Q1226 73 1226.5 77 L1228 115 L1164 115.5 Z" fill="#4b4f53"/>
<path d="M1172 75.5 L1215 77 L1217.5 109.5 L1175 110.5 Z" fill="#d3e6ed" stroke="#333" stroke-width="0.6"/>
<path d="M1185 110 L1205 77.5" stroke="#e4f0f4" stroke-width="3" opacity="0.6"/>
<path d="M1165.5 114.5 L1227.5 114" stroke="#86cfd6" stroke-width="1.6"/>
<path d="M1136 117 Q1136.5 115.5 1139 115.5 L1242 115.5 Q1244 116 1244 118 L1244.5 173.5 L1147 179.5 Q1140 178 1139.5 170 Z" fill="#4e5255"/>
<path d="M1146 122.5 L1243 122" stroke="#3a3d40" stroke-width="0.9"/>
<path d="M1211.5 122 L1211.5 175" stroke="#36393c" stroke-width="0.9"/>
<path d="M1168 178 L1208 125" stroke="#5b5f62" stroke-width="6" opacity="0.35"/>
<circle cx="1151.5" cy="119.8" r="1.3" fill="none" stroke="#6cc4cc" stroke-width="0.6"/>
<rect x="1139" y="180.5" width="7" height="3.2" rx="1" fill="#333"/>
<rect x="1216" y="175.5" width="7" height="3" rx="1" fill="#333"/>
<rect x="1124" y="168" width="4" height="3" rx="1" fill="#333"/>
<path d="M1119.0 92.0h8M1119.0 93.8h8M1119.0 95.6h8M1119.0 97.4h8M1119.0 99.2h8M1119.0 101.0h8M1119.0 102.8h8M1119.0 104.6h8M1121.0 143.0h8M1121.0 145.2h8M1121.0 147.4h8M1121.0 149.6h8M1121.0 151.8h8M1121.0 154.0h8M1121.0 156.2h8M1121.0 158.4h8M1121.0 160.6h8M1121.0 162.8h8M1121.0 165.0h8M1121.0 167.2h8" stroke="#7c8286" stroke-width="0.6"/>
<text x="158.6" y="233.0" font-size="23.4">tissue dissection</text>
<text x="657.5" y="234.8" font-size="23.4">enzymatic digestion</text>
<text x="918.2" y="304.4" font-size="23.6">FACS</text>
<text x="1109.2" y="220.0" font-size="23.6">Sequencing</text>
<rect x="282.0" y="811.4" width="30.1" height="25.7" fill="#f5cfc0"/>
<rect x="311.8" y="811.4" width="30.1" height="25.7" fill="#f3bca4"/>
<rect x="341.7" y="811.4" width="30.1" height="25.7" fill="#f2b098"/>
<rect x="371.5" y="811.4" width="30.1" height="25.7" fill="#f6d5c5"/>
<rect x="401.4" y="811.4" width="30.1" height="25.7" fill="#f0a98a"/>
<rect x="431.2" y="811.4" width="30.1" height="25.7" fill="#f0aa8c"/>
<rect x="461.0" y="811.4" width="30.1" height="25.7" fill="#f2b9a0"/>
<rect x="490.9" y="811.4" width="30.1" height="25.7" fill="#ffffff"/>
<rect x="520.7" y="811.4" width="30.1" height="25.7" fill="#dbeaea"/>
<rect x="550.6" y="811.4" width="30.1" height="25.7" fill="#eaf2f1"/>
<rect x="580.4" y="811.4" width="30.1" height="25.7" fill="#9fcbd1"/>
<rect x="610.2" y="811.4" width="30.1" height="25.7" fill="#72bcc5"/>
<rect x="640.1" y="811.4" width="30.1" height="25.7" fill="#00a0b0"/>
<rect x="282.0" y="836.8" width="30.1" height="25.7" fill="#faeee9"/>
<rect x="311.8" y="836.8" width="30.1" height="25.7" fill="#f3bea6"/>
<rect x="341.7" y="836.8" width="30.1" height="25.7" fill="#f2b29a"/>
<rect x="371.5" y="836.8" width="30.1" height="25.7" fill="#f9e8df"/>
<rect x="401.4" y="836.8" width="30.1" height="25.7" fill="#ee9f80"/>
<rect x="431.2" y="836.8" width="30.1" height="25.7" fill="#efa486"/>
<rect x="461.0" y="836.8" width="30.1" height="25.7" fill="#f0ab8e"/>
<rect x="490.9" y="836.8" width="30.1" height="25.7" fill="#ffffff"/>
<rect x="520.7" y="836.8" width="30.1" height="25.7" fill="#c6dfe2"/>
<rect x="550.6" y="836.8" width="30.1" height="25.7" fill="#d4e7e7"/>
<rect x="580.4" y="836.8" width="30.1" height="25.7" fill="#a6ced4"/>
<rect x="610.2" y="836.8" width="30.1" height="25.7" fill="#00a2b1"/>
<rect x="640.1" y="836.8" width="30.1" height="25.7" fill="#74bcc6"/>
<rect x="282.0" y="862.2" width="30.1" height="25.7" fill="#f6cfc1"/>
<rect x="311.8" y="862.2" width="30.1" height="25.7" fill="#f0aa8d"/>
<rect x="341.7" y="862.2" width="30.1" height="25.7" fill="#ec9474"/>
<rect x="371.5" y="862.2" width="30.1" height="25.7" fill="#efa588"/>
<rect x="401.4" y="862.2" width="30.1" height="25.7" fill="#ed9c7c"/>
<rect x="431.2" y="862.2" width="30.1" height="25.7" fill="#ed9a7a"/>
<rect x="461.0" y="862.2" width="30.1" height="25.7" fill="#f6ccb9"/>
<rect x="490.9" y="862.2" width="30.1" height="25.7" fill="#cde5e7"/>
<rect x="520.7" y="862.2" width="30.1" height="25.7" fill="#aed3d6"/>
<rect x="550.6" y="862.2" width="30.1" height="25.7" fill="#b9d9dc"/>
<rect x="580.4" y="862.2" width="30.1" height="25.7" fill="#00a2b1"/>
<rect x="610.2" y="862.2" width="30.1" height="25.7" fill="#a4ced3"/>
<rect x="640.1" y="862.2" width="30.1" height="25.7" fill="#9fcbd1"/>
<rect x="282.0" y="887.7" width="30.1" height="25.7" fill="#f6d4c4"/>
<rect x="311.8" y="887.7" width="30.1" height="25.7" fill="#ec9a7a"/>
<rect x="341.7" y="887.7" width="30.1" height="25.7" fill="#ec9272"/>
<rect x="371.5" y="887.7" width="30.1" height="25.7" fill="#eb8d6c"/>
<rect x="401.4" y="887.7" width="30.1" height="25.7" fill="#eb8a69"/>
<rect x="431.2" y="887.7" width="30.1" height="25.7" fill="#ec8e6e"/>
<rect x="461.0" y="887.7" width="30.1" height="25.7" fill="#f6d5c6"/>
<rect x="490.9" y="887.7" width="30.1" height="25.7" fill="#77bdc6"/>
<rect x="520.7" y="887.7" width="30.1" height="25.7" fill="#4eb0bd"/>
<rect x="550.6" y="887.7" width="30.1" height="25.7" fill="#00a2b1"/>
<rect x="580.4" y="887.7" width="30.1" height="25.7" fill="#c3dee1"/>
<rect x="610.2" y="887.7" width="30.1" height="25.7" fill="#d7e9e9"/>
<rect x="640.1" y="887.7" width="30.1" height="25.7" fill="#f0f5f4"/>
<rect x="282.0" y="913.1" width="30.1" height="25.7" fill="#f7d9cc"/>
<rect x="311.8" y="913.1" width="30.1" height="25.7" fill="#ed9b7b"/>
<rect x="341.7" y="913.1" width="30.1" height="25.7" fill="#ec9272"/>
<rect x="371.5" y="913.1" width="30.1" height="25.7" fill="#ec9373"/>
<rect x="401.4" y="913.1" width="30.1" height="25.7" fill="#ea8463"/>
<rect x="431.2" y="913.1" width="30.1" height="25.7" fill="#eb8767"/>
<rect x="461.0" y="913.1" width="30.1" height="25.7" fill="#f7cfbd"/>
<rect x="490.9" y="913.1" width="30.1" height="25.7" fill="#7fc0c9"/>
<rect x="520.7" y="913.1" width="30.1" height="25.7" fill="#00a2b1"/>
<rect x="550.6" y="913.1" width="30.1" height="25.7" fill="#4cb0bd"/>
<rect x="580.4" y="913.1" width="30.1" height="25.7" fill="#afd4d8"/>
<rect x="610.2" y="913.1" width="30.1" height="25.7" fill="#c6dfe2"/>
<rect x="640.1" y="913.1" width="30.1" height="25.7" fill="#d8e9e9"/>
<rect x="282.0" y="938.5" width="30.1" height="25.7" fill="#f1ae93"/>
<rect x="311.8" y="938.5" width="30.1" height="25.7" fill="#f0aa8d"/>
<rect x="341.7" y="938.5" width="30.1" height="25.7" fill="#efa68a"/>
<rect x="371.5" y="938.5" width="30.1" height="25.7" fill="#ec906f"/>
<rect x="401.4" y="938.5" width="30.1" height="25.7" fill="#efa386"/>
<rect x="431.2" y="938.5" width="30.1" height="25.7" fill="#ee9e80"/>
<rect x="461.0" y="938.5" width="30.1" height="25.7" fill="#faece6"/>
<rect x="490.9" y="938.5" width="30.1" height="25.7" fill="#00a2b1"/>
<rect x="520.7" y="938.5" width="30.1" height="25.7" fill="#80c1ca"/>
<rect x="550.6" y="938.5" width="30.1" height="25.7" fill="#6fbac4"/>
<rect x="580.4" y="938.5" width="30.1" height="25.7" fill="#cfe5e7"/>
<rect x="610.2" y="938.5" width="30.1" height="25.7" fill="#ffffff"/>
<rect x="640.1" y="938.5" width="30.1" height="25.7" fill="#ffffff"/>
<rect x="282.0" y="963.9" width="30.1" height="25.7" fill="#efa485"/>
<rect x="311.8" y="963.9" width="30.1" height="25.7" fill="#f3c0a8"/>
<rect x="341.7" y="963.9" width="30.1" height="25.7" fill="#f6d4c4"/>
<rect x="371.5" y="963.9" width="30.1" height="25.7" fill="#f2bda4"/>
<rect x="401.4" y="963.9" width="30.1" height="25.7" fill="#faf0eb"/>
<rect x="431.2" y="963.9" width="30.1" height="25.7" fill="#f9ede8"/>
<rect x="461.0" y="963.9" width="30.1" height="25.7" fill="#00a2b1"/>
<rect x="490.9" y="963.9" width="30.1" height="25.7" fill="#faeee8"/>
<rect x="520.7" y="963.9" width="30.1" height="25.7" fill="#f6d0bf"/>
<rect x="550.6" y="963.9" width="30.1" height="25.7" fill="#f6d4c5"/>
<rect x="580.4" y="963.9" width="30.1" height="25.7" fill="#f4c6b1"/>
<rect x="610.2" y="963.9" width="30.1" height="25.7" fill="#f0ac8f"/>
<rect x="640.1" y="963.9" width="30.1" height="25.7" fill="#f0b196"/>
<rect x="282.0" y="989.3" width="30.1" height="25.7" fill="#c1dfe2"/>
<rect x="311.8" y="989.3" width="30.1" height="25.7" fill="#98c9cf"/>
<rect x="341.7" y="989.3" width="30.1" height="25.7" fill="#7dbfc8"/>
<rect x="371.5" y="989.3" width="30.1" height="25.7" fill="#82c2ca"/>
<rect x="401.4" y="989.3" width="30.1" height="25.7" fill="#53b1be"/>
<rect x="431.2" y="989.3" width="30.1" height="25.7" fill="#00a2b1"/>
<rect x="461.0" y="989.3" width="30.1" height="25.7" fill="#f9ede8"/>
<rect x="490.9" y="989.3" width="30.1" height="25.7" fill="#ef9f81"/>
<rect x="520.7" y="989.3" width="30.1" height="25.7" fill="#eb8766"/>
<rect x="550.6" y="989.3" width="30.1" height="25.7" fill="#ec8f6e"/>
<rect x="580.4" y="989.3" width="30.1" height="25.7" fill="#ed9a7a"/>
<rect x="610.2" y="989.3" width="30.1" height="25.7" fill="#efa487"/>
<rect x="640.1" y="989.3" width="30.1" height="25.7" fill="#f0a98b"/>
<rect x="282.0" y="1014.8" width="30.1" height="25.7" fill="#c6e0e3"/>
<rect x="311.8" y="1014.8" width="30.1" height="25.7" fill="#98c9cf"/>
<rect x="341.7" y="1014.8" width="30.1" height="25.7" fill="#74bcc5"/>
<rect x="371.5" y="1014.8" width="30.1" height="25.7" fill="#88c4cb"/>
<rect x="401.4" y="1014.8" width="30.1" height="25.7" fill="#00a2b1"/>
<rect x="431.2" y="1014.8" width="30.1" height="25.7" fill="#55b2be"/>
<rect x="461.0" y="1014.8" width="30.1" height="25.7" fill="#f9ede8"/>
<rect x="490.9" y="1014.8" width="30.1" height="25.7" fill="#efa284"/>
<rect x="520.7" y="1014.8" width="30.1" height="25.7" fill="#ea8462"/>
<rect x="550.6" y="1014.8" width="30.1" height="25.7" fill="#eb8a69"/>
<rect x="580.4" y="1014.8" width="30.1" height="25.7" fill="#ee9d7e"/>
<rect x="610.2" y="1014.8" width="30.1" height="25.7" fill="#eea083"/>
<rect x="640.1" y="1014.8" width="30.1" height="25.7" fill="#efa688"/>
<rect x="282.0" y="1040.2" width="30.1" height="25.7" fill="#90c6cd"/>
<rect x="311.8" y="1040.2" width="30.1" height="25.7" fill="#a2cdd3"/>
<rect x="341.7" y="1040.2" width="30.1" height="25.7" fill="#88c3cb"/>
<rect x="371.5" y="1040.2" width="30.1" height="25.7" fill="#00a2b1"/>
<rect x="401.4" y="1040.2" width="30.1" height="25.7" fill="#88c4cb"/>
<rect x="431.2" y="1040.2" width="30.1" height="25.7" fill="#82c2ca"/>
<rect x="461.0" y="1040.2" width="30.1" height="25.7" fill="#f3bea6"/>
<rect x="490.9" y="1040.2" width="30.1" height="25.7" fill="#ec9171"/>
<rect x="520.7" y="1040.2" width="30.1" height="25.7" fill="#ec9474"/>
<rect x="550.6" y="1040.2" width="30.1" height="25.7" fill="#eb8f6e"/>
<rect x="580.4" y="1040.2" width="30.1" height="25.7" fill="#efa386"/>
<rect x="610.2" y="1040.2" width="30.1" height="25.7" fill="#f9ebe4"/>
<rect x="640.1" y="1040.2" width="30.1" height="25.7" fill="#f7d6c8"/>
<rect x="282.0" y="1065.6" width="30.1" height="25.7" fill="#c9e2e4"/>
<rect x="311.8" y="1065.6" width="30.1" height="25.7" fill="#7dc0c8"/>
<rect x="341.7" y="1065.6" width="30.1" height="25.7" fill="#00a2b1"/>
<rect x="371.5" y="1065.6" width="30.1" height="25.7" fill="#8dc5cc"/>
<rect x="401.4" y="1065.6" width="30.1" height="25.7" fill="#78bdc6"/>
<rect x="431.2" y="1065.6" width="30.1" height="25.7" fill="#7fc0c8"/>
<rect x="461.0" y="1065.6" width="30.1" height="25.7" fill="#f7d6c8"/>
<rect x="490.9" y="1065.6" width="30.1" height="25.7" fill="#f0ad91"/>
<rect x="520.7" y="1065.6" width="30.1" height="25.7" fill="#ee9c7d"/>
<rect x="550.6" y="1065.6" width="30.1" height="25.7" fill="#ed9a7b"/>
<rect x="580.4" y="1065.6" width="30.1" height="25.7" fill="#ec9474"/>
<rect x="610.2" y="1065.6" width="30.1" height="25.7" fill="#f2b79d"/>
<rect x="640.1" y="1065.6" width="30.1" height="25.7" fill="#f1b398"/>
<rect x="282.0" y="1091.0" width="30.1" height="25.7" fill="#a9d1d6"/>
<rect x="311.8" y="1091.0" width="30.1" height="25.7" fill="#00a2b1"/>
<rect x="341.7" y="1091.0" width="30.1" height="25.7" fill="#7fc0c8"/>
<rect x="371.5" y="1091.0" width="30.1" height="25.7" fill="#a7d0d5"/>
<rect x="401.4" y="1091.0" width="30.1" height="25.7" fill="#9acacf"/>
<rect x="431.2" y="1091.0" width="30.1" height="25.7" fill="#9ecbd1"/>
<rect x="461.0" y="1091.0" width="30.1" height="25.7" fill="#f3c3ad"/>
<rect x="490.9" y="1091.0" width="30.1" height="25.7" fill="#f1b297"/>
<rect x="520.7" y="1091.0" width="30.1" height="25.7" fill="#efa98b"/>
<rect x="550.6" y="1091.0" width="30.1" height="25.7" fill="#eea183"/>
<rect x="580.4" y="1091.0" width="30.1" height="25.7" fill="#f0ad91"/>
<rect x="610.2" y="1091.0" width="30.1" height="25.7" fill="#f3c0a9"/>
<rect x="640.1" y="1091.0" width="30.1" height="25.7" fill="#f2b8a0"/>
<rect x="282.0" y="1116.4" width="30.1" height="25.7" fill="#00a2b1"/>
<rect x="311.8" y="1116.4" width="30.1" height="25.7" fill="#abd2d6"/>
<rect x="341.7" y="1116.4" width="30.1" height="25.7" fill="#c7e1e3"/>
<rect x="371.5" y="1116.4" width="30.1" height="25.7" fill="#91c7ce"/>
<rect x="401.4" y="1116.4" width="30.1" height="25.7" fill="#c8e1e4"/>
<rect x="431.2" y="1116.4" width="30.1" height="25.7" fill="#c3dfe2"/>
<rect x="461.0" y="1116.4" width="30.1" height="25.7" fill="#efa587"/>
<rect x="490.9" y="1116.4" width="30.1" height="25.7" fill="#f2b59b"/>
<rect x="520.7" y="1116.4" width="30.1" height="25.7" fill="#f7d8c9"/>
<rect x="550.6" y="1116.4" width="30.1" height="25.7" fill="#f6d3c3"/>
<rect x="580.4" y="1116.4" width="30.1" height="25.7" fill="#f5cdbc"/>
<rect x="610.2" y="1116.4" width="30.1" height="25.7" fill="#faede7"/>
<rect x="640.1" y="1116.4" width="30.1" height="25.7" fill="#f4c9b5"/>
<path d="M282.0 811.4V1141.9M311.8 811.4V1141.9M341.7 811.4V1141.9M371.5 811.4V1141.9M401.4 811.4V1141.9M431.2 811.4V1141.9M461.0 811.4V1141.9M490.9 811.4V1141.9M520.7 811.4V1141.9M550.6 811.4V1141.9M580.4 811.4V1141.9M610.2 811.4V1141.9M640.1 811.4V1141.9M669.9 811.4V1141.9M282.0 811.4H669.9M282.0 836.8H669.9M282.0 862.2H669.9M282.0 887.7H669.9M282.0 913.1H669.9M282.0 938.5H669.9M282.0 963.9H669.9M282.0 989.3H669.9M282.0 1014.8H669.9M282.0 1040.2H669.9M282.0 1065.6H669.9M282.0 1091.0H669.9M282.0 1116.4H669.9M282.0 1141.9H669.9" stroke="#222" stroke-width="1.5" fill="none"/>
<rect x="279.2" y="809.2" width="393.5" height="334.6" fill="none" stroke="#1a1a1a" stroke-width="1.8"/>
<path d="M296.9 809.2v2.5M296.9 1143.8v-2.5M326.8 809.2v2.5M326.8 1143.8v-2.5M356.6 809.2v2.5M356.6 1143.8v-2.5M386.4 809.2v2.5M386.4 1143.8v-2.5M416.3 809.2v2.5M416.3 1143.8v-2.5M446.1 809.2v2.5M446.1 1143.8v-2.5M476.0 809.2v2.5M476.0 1143.8v-2.5M505.8 809.2v2.5M505.8 1143.8v-2.5M535.6 809.2v2.5M535.6 1143.8v-2.5M565.5 809.2v2.5M565.5 1143.8v-2.5M595.3 809.2v2.5M595.3 1143.8v-2.5M625.2 809.2v2.5M625.2 1143.8v-2.5M655.0 809.2v2.5M655.0 1143.8v-2.5M279.2 824.1h2.5M672.7 824.1h-2.5M279.2 849.5h2.5M672.7 849.5h-2.5M279.2 874.9h2.5M672.7 874.9h-2.5M279.2 900.4h2.5M672.7 900.4h-2.5M279.2 925.8h2.5M672.7 925.8h-2.5M279.2 951.2h2.5M672.7 951.2h-2.5M279.2 976.6h2.5M672.7 976.6h-2.5M279.2 1002.0h2.5M672.7 1002.0h-2.5M279.2 1027.5h2.5M672.7 1027.5h-2.5M279.2 1052.9h2.5M672.7 1052.9h-2.5M279.2 1078.3h2.5M672.7 1078.3h-2.5M279.2 1103.7h2.5M672.7 1103.7h-2.5M279.2 1129.2h2.5M672.7 1129.2h-2.5" stroke="#444" stroke-width="1"/>
<text x="484.0" y="799.4" font-size="26.2" text-anchor="middle">5 weeks after injection</text>
<rect x="99.6" y="815.7" width="174.00000000000003" height="169.0" fill="none" stroke="#b3b3b3" stroke-width="2" stroke-dasharray="7 5"/>
<rect x="99.6" y="993.6" width="174.00000000000003" height="143.89999999999998" fill="none" stroke="#b3b3b3" stroke-width="2" stroke-dasharray="7 5"/>
<path d="M226.2 824.1L264.0 824.1 M226.2 849.5L264.0 849.5 M226.2 824.1L226.2 849.5 M202.0 836.8L226.2 836.8 M202.0 874.9L264.0 874.9 M202.0 836.8L202.0 874.9 M147.0 855.9L202.0 855.9 M240.7 900.4L264.0 900.4 M240.7 925.8L264.0 925.8 M240.7 900.4L240.7 925.8 M221.2 913.1L240.7 913.1 M221.2 951.2L264.0 951.2 M221.2 913.1L221.2 951.2 M147.0 932.1L221.2 932.1 M147.0 855.9L147.0 932.1 M130.0 894.0L147.0 894.0 M130.0 976.6L264.0 976.6 M130.0 894.0L130.0 976.6 M38.8 935.3L130.0 935.3 M38.8 935.3L38.8 1015.6" stroke="#e8562e" stroke-width="2" fill="none" stroke-linecap="square"/>
<path d="M240.0 1002.0L264.0 1002.0 M240.0 1027.5L264.0 1027.5 M240.0 1002.0L240.0 1027.5 M217.0 1014.8L240.0 1014.8 M217.0 1052.9L264.0 1052.9 M217.0 1014.8L217.0 1052.9 M207.8 1033.8L217.0 1033.8 M224.2 1078.3L264.0 1078.3 M224.2 1103.7L264.0 1103.7 M224.2 1078.3L224.2 1103.7 M207.8 1091.0L224.2 1091.0 M207.8 1033.8L207.8 1091.0 M190.5 1062.4L207.8 1062.4 M190.5 1129.2L264.0 1129.2 M190.5 1062.4L190.5 1129.2 M38.8 1095.8L190.5 1095.8 M38.8 1015.6L38.8 1095.8" stroke="#1aa9bf" stroke-width="2" fill="none" stroke-linecap="square"/>
<text x="299.4" y="1156.8" font-size="19.2" text-anchor="end" transform="rotate(-45 299.4 1156.8)">Control_1</text>
<text x="329.3" y="1156.8" font-size="19.2" text-anchor="end" transform="rotate(-45 329.3 1156.8)">Control_2</text>
<text x="359.1" y="1156.8" font-size="19.2" text-anchor="end" transform="rotate(-45 359.1 1156.8)"><tspan textLength="52.8" lengthAdjust="spacingAndGlyphs">iParkin</tspan><tspan font-size="0.62em" dy="-0.5em">DA</tspan><tspan dy="0.31em">_1</tspan></text>
<text x="388.9" y="1156.8" font-size="19.2" text-anchor="end" transform="rotate(-45 388.9 1156.8)"><tspan textLength="52.8" lengthAdjust="spacingAndGlyphs">iParkin</tspan><tspan font-size="0.62em" dy="-0.5em">DA</tspan><tspan dy="0.31em">_2</tspan></text>
<text x="418.8" y="1156.8" font-size="19.2" text-anchor="end" transform="rotate(-45 418.8 1156.8)"><tspan textLength="52.8" lengthAdjust="spacingAndGlyphs">iParkin</tspan><tspan font-size="0.62em" dy="-0.5em">DA</tspan><tspan dy="0.31em">_3</tspan></text>
<text x="448.6" y="1156.8" font-size="19.2" text-anchor="end" transform="rotate(-45 448.6 1156.8)"><tspan textLength="52.8" lengthAdjust="spacingAndGlyphs">iParkin</tspan><tspan font-size="0.62em" dy="-0.5em">DA</tspan><tspan dy="0.31em">_4</tspan></text>
<text x="478.5" y="1156.8" font-size="19.2" text-anchor="end" transform="rotate(-45 478.5 1156.8)">Control_3</text>
<text x="508.3" y="1156.8" font-size="19.2" text-anchor="end" transform="rotate(-45 508.3 1156.8)">Control_4</text>
<text x="538.1" y="1156.8" font-size="19.2" text-anchor="end" transform="rotate(-45 538.1 1156.8)">Control_5</text>
<text x="568.0" y="1156.8" font-size="19.2" text-anchor="end" transform="rotate(-45 568.0 1156.8)"><tspan textLength="52.8" lengthAdjust="spacingAndGlyphs">iParkin</tspan><tspan font-size="0.62em" dy="-0.5em">DA</tspan><tspan dy="0.31em">_5</tspan></text>
<text x="597.8" y="1156.8" font-size="19.2" text-anchor="end" transform="rotate(-45 597.8 1156.8)">Control_6</text>
<text x="627.7" y="1156.8" font-size="19.2" text-anchor="end" transform="rotate(-45 627.7 1156.8)"><tspan textLength="52.8" lengthAdjust="spacingAndGlyphs">iParkin</tspan><tspan font-size="0.62em" dy="-0.5em">DA</tspan><tspan dy="0.31em">_6</tspan></text>
<text x="657.5" y="1156.8" font-size="19.2" text-anchor="end" transform="rotate(-45 657.5 1156.8)"><tspan textLength="52.8" lengthAdjust="spacingAndGlyphs">iParkin</tspan><tspan font-size="0.62em" dy="-0.5em">DA</tspan><tspan dy="0.31em">_7</tspan></text>
<defs><linearGradient id="lgd" x1="0" y1="0" x2="0" y2="1"><stop offset="0" stop-color="#ee8a6a"/><stop offset="0.12" stop-color="#f0a184"/><stop offset="0.25" stop-color="#f4c3ae"/><stop offset="0.33" stop-color="#f8e1d7"/><stop offset="0.42" stop-color="#fbfbfb"/><stop offset="0.5" stop-color="#e6f0f0"/><stop offset="0.6" stop-color="#c4e0e3"/><stop offset="0.75" stop-color="#97cbd1"/><stop offset="0.88" stop-color="#5ab5c0"/><stop offset="1" stop-color="#06a4b3"/></linearGradient></defs>
<rect x="727.2" y="902.4" width="21.4" height="106.0" fill="url(#lgd)" stroke="#222" stroke-width="1.3"/>
<line x1="727.2" y1="905.4" x2="732.0" y2="905.4" stroke="#222" stroke-width="1.2"/>
<line x1="744.0" y1="905.4" x2="748.6" y2="905.4" stroke="#222" stroke-width="1.2"/>
<text x="724.4" y="910.1" font-size="13" text-anchor="end" style="fill:#111">1.6</text>
<line x1="727.2" y1="930.4" x2="732.0" y2="930.4" stroke="#222" stroke-width="1.2"/>
<line x1="744.0" y1="930.4" x2="748.6" y2="930.4" stroke="#222" stroke-width="1.2"/>
<text x="724.4" y="935.1" font-size="13" text-anchor="end" style="fill:#111">1.2</text>
<line x1="727.2" y1="955.2" x2="732.0" y2="955.2" stroke="#222" stroke-width="1.2"/>
<line x1="744.0" y1="955.2" x2="748.6" y2="955.2" stroke="#222" stroke-width="1.2"/>
<text x="724.4" y="959.9" font-size="13" text-anchor="end" style="fill:#111">0.8</text>
<line x1="727.2" y1="980.2" x2="732.0" y2="980.2" stroke="#222" stroke-width="1.2"/>
<line x1="744.0" y1="980.2" x2="748.6" y2="980.2" stroke="#222" stroke-width="1.2"/>
<text x="724.4" y="984.9" font-size="13" text-anchor="end" style="fill:#111">0.4</text>
<line x1="727.2" y1="1005.2" x2="732.0" y2="1005.2" stroke="#222" stroke-width="1.2"/>
<line x1="744.0" y1="1005.2" x2="748.6" y2="1005.2" stroke="#222" stroke-width="1.2"/>
<text x="724.4" y="1009.9" font-size="13" text-anchor="end" style="fill:#111">0.0</text>
<text x="737.2" y="1031.6" font-size="17" text-anchor="middle" style="fill:#111">Value</text>
<rect x="1051.5" y="807.5" width="32.6" height="27.7" fill="#efa68a"/>
<rect x="1083.8" y="807.5" width="32.6" height="27.7" fill="#f1b096"/>
<rect x="1116.0" y="807.5" width="32.6" height="27.7" fill="#f3bca4"/>
<rect x="1148.3" y="807.5" width="32.6" height="27.7" fill="#dfeceb"/>
<rect x="1180.6" y="807.5" width="32.6" height="27.7" fill="#f9e3d9"/>
<rect x="1212.8" y="807.5" width="32.6" height="27.7" fill="#ffffff"/>
<rect x="1245.1" y="807.5" width="32.6" height="27.7" fill="#d9e9e9"/>
<rect x="1277.4" y="807.5" width="32.6" height="27.7" fill="#bcdcde"/>
<rect x="1309.7" y="807.5" width="32.6" height="27.7" fill="#b5d8db"/>
<rect x="1341.9" y="807.5" width="32.6" height="27.7" fill="#ffffff"/>
<rect x="1374.2" y="807.5" width="32.6" height="27.7" fill="#d8e8e8"/>
<rect x="1406.5" y="807.5" width="32.6" height="27.7" fill="#00a2b1"/>
<rect x="1051.5" y="834.9" width="32.6" height="27.7" fill="#f6cdbc"/>
<rect x="1083.8" y="834.9" width="32.6" height="27.7" fill="#fbefeb"/>
<rect x="1116.0" y="834.9" width="32.6" height="27.7" fill="#f6f7f8"/>
<rect x="1148.3" y="834.9" width="32.6" height="27.7" fill="#fbf2ef"/>
<rect x="1180.6" y="834.9" width="32.6" height="27.7" fill="#f3b8a0"/>
<rect x="1212.8" y="834.9" width="32.6" height="27.7" fill="#f5c8b6"/>
<rect x="1245.1" y="834.9" width="32.6" height="27.7" fill="#f5f6f7"/>
<rect x="1277.4" y="834.9" width="32.6" height="27.7" fill="#f5f7f8"/>
<rect x="1309.7" y="834.9" width="32.6" height="27.7" fill="#f6f7f8"/>
<rect x="1341.9" y="834.9" width="32.6" height="27.7" fill="#f9e5dc"/>
<rect x="1374.2" y="834.9" width="32.6" height="27.7" fill="#00a2b1"/>
<rect x="1406.5" y="834.9" width="32.6" height="27.7" fill="#d8e8e8"/>
<rect x="1051.5" y="862.3" width="32.6" height="27.7" fill="#f4c6b2"/>
<rect x="1083.8" y="862.3" width="32.6" height="27.7" fill="#c6e1e3"/>
<rect x="1116.0" y="862.3" width="32.6" height="27.7" fill="#fcfcfd"/>
<rect x="1148.3" y="862.3" width="32.6" height="27.7" fill="#f0aa8e"/>
<rect x="1180.6" y="862.3" width="32.6" height="27.7" fill="#f1ab8f"/>
<rect x="1212.8" y="862.3" width="32.6" height="27.7" fill="#f9ebe2"/>
<rect x="1245.1" y="862.3" width="32.6" height="27.7" fill="#f9fbfa"/>
<rect x="1277.4" y="862.3" width="32.6" height="27.7" fill="#fcf8f4"/>
<rect x="1309.7" y="862.3" width="32.6" height="27.7" fill="#d9eae9"/>
<rect x="1341.9" y="862.3" width="32.6" height="27.7" fill="#00a2b1"/>
<rect x="1374.2" y="862.3" width="32.6" height="27.7" fill="#f9e3da"/>
<rect x="1406.5" y="862.3" width="32.6" height="27.7" fill="#ffffff"/>
<rect x="1051.5" y="889.6" width="32.6" height="27.7" fill="#ec9473"/>
<rect x="1083.8" y="889.6" width="32.6" height="27.7" fill="#ee9e80"/>
<rect x="1116.0" y="889.6" width="32.6" height="27.7" fill="#efa486"/>
<rect x="1148.3" y="889.6" width="32.6" height="27.7" fill="#f9dfd3"/>
<rect x="1180.6" y="889.6" width="32.6" height="27.7" fill="#ffffff"/>
<rect x="1212.8" y="889.6" width="32.6" height="27.7" fill="#b7d9dc"/>
<rect x="1245.1" y="889.6" width="32.6" height="27.7" fill="#9ccbd1"/>
<rect x="1277.4" y="889.6" width="32.6" height="27.7" fill="#8ec5cc"/>
<rect x="1309.7" y="889.6" width="32.6" height="27.7" fill="#00a2b1"/>
<rect x="1341.9" y="889.6" width="32.6" height="27.7" fill="#d8eaea"/>
<rect x="1374.2" y="889.6" width="32.6" height="27.7" fill="#f5f6f7"/>
<rect x="1406.5" y="889.6" width="32.6" height="27.7" fill="#b7d9dc"/>
<rect x="1051.5" y="917.0" width="32.6" height="27.7" fill="#ed9979"/>
<rect x="1083.8" y="917.0" width="32.6" height="27.7" fill="#ec9373"/>
<rect x="1116.0" y="917.0" width="32.6" height="27.7" fill="#ee9e80"/>
<rect x="1148.3" y="917.0" width="32.6" height="27.7" fill="#edf4f3"/>
<rect x="1180.6" y="917.0" width="32.6" height="27.7" fill="#eaf2f2"/>
<rect x="1212.8" y="917.0" width="32.6" height="27.7" fill="#d2e7e8"/>
<rect x="1245.1" y="917.0" width="32.6" height="27.7" fill="#a4cfd4"/>
<rect x="1277.4" y="917.0" width="32.6" height="27.7" fill="#00a2b1"/>
<rect x="1309.7" y="917.0" width="32.6" height="27.7" fill="#8fc6cd"/>
<rect x="1341.9" y="917.0" width="32.6" height="27.7" fill="#fcf8f5"/>
<rect x="1374.2" y="917.0" width="32.6" height="27.7" fill="#f4f6f7"/>
<rect x="1406.5" y="917.0" width="32.6" height="27.7" fill="#b7d8db"/>
<rect x="1051.5" y="944.4" width="32.6" height="27.7" fill="#ec9473"/>
<rect x="1083.8" y="944.4" width="32.6" height="27.7" fill="#f2b69d"/>
<rect x="1116.0" y="944.4" width="32.6" height="27.7" fill="#f2b69d"/>
<rect x="1148.3" y="944.4" width="32.6" height="27.7" fill="#f8dcd0"/>
<rect x="1180.6" y="944.4" width="32.6" height="27.7" fill="#f7d5c5"/>
<rect x="1212.8" y="944.4" width="32.6" height="27.7" fill="#c3e0e2"/>
<rect x="1245.1" y="944.4" width="32.6" height="27.7" fill="#00a2b1"/>
<rect x="1277.4" y="944.4" width="32.6" height="27.7" fill="#a5cfd4"/>
<rect x="1309.7" y="944.4" width="32.6" height="27.7" fill="#98cad0"/>
<rect x="1341.9" y="944.4" width="32.6" height="27.7" fill="#f9fbfa"/>
<rect x="1374.2" y="944.4" width="32.6" height="27.7" fill="#f4f6f7"/>
<rect x="1406.5" y="944.4" width="32.6" height="27.7" fill="#d5e8e8"/>
<rect x="1051.5" y="971.8" width="32.6" height="27.7" fill="#f3b69d"/>
<rect x="1083.8" y="971.8" width="32.6" height="27.7" fill="#f3b69e"/>
<rect x="1116.0" y="971.8" width="32.6" height="27.7" fill="#f3b69d"/>
<rect x="1148.3" y="971.8" width="32.6" height="27.7" fill="#f5f6f8"/>
<rect x="1180.6" y="971.8" width="32.6" height="27.7" fill="#c6e1e3"/>
<rect x="1212.8" y="971.8" width="32.6" height="27.7" fill="#00a2b1"/>
<rect x="1245.1" y="971.8" width="32.6" height="27.7" fill="#c5e0e2"/>
<rect x="1277.4" y="971.8" width="32.6" height="27.7" fill="#d7e9e9"/>
<rect x="1309.7" y="971.8" width="32.6" height="27.7" fill="#bcdcdf"/>
<rect x="1341.9" y="971.8" width="32.6" height="27.7" fill="#faeae2"/>
<rect x="1374.2" y="971.8" width="32.6" height="27.7" fill="#f5cab7"/>
<rect x="1406.5" y="971.8" width="32.6" height="27.7" fill="#ffffff"/>
<rect x="1051.5" y="999.2" width="32.6" height="27.7" fill="#e9f2f1"/>
<rect x="1083.8" y="999.2" width="32.6" height="27.7" fill="#f1aa8d"/>
<rect x="1116.0" y="999.2" width="32.6" height="27.7" fill="#f3bca3"/>
<rect x="1148.3" y="999.2" width="32.6" height="27.7" fill="#bddcde"/>
<rect x="1180.6" y="999.2" width="32.6" height="27.7" fill="#00a2b1"/>
<rect x="1212.8" y="999.2" width="32.6" height="27.7" fill="#d2e7e8"/>
<rect x="1245.1" y="999.2" width="32.6" height="27.7" fill="#f7d6c7"/>
<rect x="1277.4" y="999.2" width="32.6" height="27.7" fill="#eef5f4"/>
<rect x="1309.7" y="999.2" width="32.6" height="27.7" fill="#ffffff"/>
<rect x="1341.9" y="999.2" width="32.6" height="27.7" fill="#f0a98c"/>
<rect x="1374.2" y="999.2" width="32.6" height="27.7" fill="#f2b59b"/>
<rect x="1406.5" y="999.2" width="32.6" height="27.7" fill="#f9e3d9"/>
<rect x="1051.5" y="1026.5" width="32.6" height="27.7" fill="#f9e2d8"/>
<rect x="1083.8" y="1026.5" width="32.6" height="27.7" fill="#f2b197"/>
<rect x="1116.0" y="1026.5" width="32.6" height="27.7" fill="#f9e8de"/>
<rect x="1148.3" y="1026.5" width="32.6" height="27.7" fill="#00a2b1"/>
<rect x="1180.6" y="1026.5" width="32.6" height="27.7" fill="#bfdddf"/>
<rect x="1212.8" y="1026.5" width="32.6" height="27.7" fill="#f5f7f8"/>
<rect x="1245.1" y="1026.5" width="32.6" height="27.7" fill="#f9dfd4"/>
<rect x="1277.4" y="1026.5" width="32.6" height="27.7" fill="#edf4f3"/>
<rect x="1309.7" y="1026.5" width="32.6" height="27.7" fill="#f9e0d5"/>
<rect x="1341.9" y="1026.5" width="32.6" height="27.7" fill="#f1ae93"/>
<rect x="1374.2" y="1026.5" width="32.6" height="27.7" fill="#fcf0ed"/>
<rect x="1406.5" y="1026.5" width="32.6" height="27.7" fill="#dbebea"/>
<rect x="1051.5" y="1053.9" width="32.6" height="27.7" fill="#d6e8e8"/>
<rect x="1083.8" y="1053.9" width="32.6" height="27.7" fill="#7dbfc8"/>
<rect x="1116.0" y="1053.9" width="32.6" height="27.7" fill="#00a2b1"/>
<rect x="1148.3" y="1053.9" width="32.6" height="27.7" fill="#f9ebe2"/>
<rect x="1180.6" y="1053.9" width="32.6" height="27.7" fill="#f3b79e"/>
<rect x="1212.8" y="1053.9" width="32.6" height="27.7" fill="#f3b89f"/>
<rect x="1245.1" y="1053.9" width="32.6" height="27.7" fill="#f2b59b"/>
<rect x="1277.4" y="1053.9" width="32.6" height="27.7" fill="#efa385"/>
<rect x="1309.7" y="1053.9" width="32.6" height="27.7" fill="#efa284"/>
<rect x="1341.9" y="1053.9" width="32.6" height="27.7" fill="#ffffff"/>
<rect x="1374.2" y="1053.9" width="32.6" height="27.7" fill="#f5f6f7"/>
<rect x="1406.5" y="1053.9" width="32.6" height="27.7" fill="#f2b298"/>
<rect x="1051.5" y="1081.3" width="32.6" height="27.7" fill="#cde4e5"/>
<rect x="1083.8" y="1081.3" width="32.6" height="27.7" fill="#00a2b1"/>
<rect x="1116.0" y="1081.3" width="32.6" height="27.7" fill="#7dbfc8"/>
<rect x="1148.3" y="1081.3" width="32.6" height="27.7" fill="#f1b096"/>
<rect x="1180.6" y="1081.3" width="32.6" height="27.7" fill="#efa486"/>
<rect x="1212.8" y="1081.3" width="32.6" height="27.7" fill="#f2b49a"/>
<rect x="1245.1" y="1081.3" width="32.6" height="27.7" fill="#f2b49a"/>
<rect x="1277.4" y="1081.3" width="32.6" height="27.7" fill="#ec9473"/>
<rect x="1309.7" y="1081.3" width="32.6" height="27.7" fill="#ee9c7d"/>
<rect x="1341.9" y="1081.3" width="32.6" height="27.7" fill="#c9e3e4"/>
<rect x="1374.2" y="1081.3" width="32.6" height="27.7" fill="#fbefeb"/>
<rect x="1406.5" y="1081.3" width="32.6" height="27.7" fill="#efa487"/>
<rect x="1051.5" y="1108.7" width="32.6" height="27.7" fill="#00a2b1"/>
<rect x="1083.8" y="1108.7" width="32.6" height="27.7" fill="#cce4e6"/>
<rect x="1116.0" y="1108.7" width="32.6" height="27.7" fill="#d9e9e9"/>
<rect x="1148.3" y="1108.7" width="32.6" height="27.7" fill="#f8e4da"/>
<rect x="1180.6" y="1108.7" width="32.6" height="27.7" fill="#e6f1f0"/>
<rect x="1212.8" y="1108.7" width="32.6" height="27.7" fill="#f2b49a"/>
<rect x="1245.1" y="1108.7" width="32.6" height="27.7" fill="#eb8e6d"/>
<rect x="1277.4" y="1108.7" width="32.6" height="27.7" fill="#ed9a7b"/>
<rect x="1309.7" y="1108.7" width="32.6" height="27.7" fill="#ec8f6e"/>
<rect x="1341.9" y="1108.7" width="32.6" height="27.7" fill="#f4c6b1"/>
<rect x="1374.2" y="1108.7" width="32.6" height="27.7" fill="#f5cdbb"/>
<rect x="1406.5" y="1108.7" width="32.6" height="27.7" fill="#ef9f82"/>
<path d="M1051.5 807.5V1136.1M1083.8 807.5V1136.1M1116.0 807.5V1136.1M1148.3 807.5V1136.1M1180.6 807.5V1136.1M1212.8 807.5V1136.1M1245.1 807.5V1136.1M1277.4 807.5V1136.1M1309.7 807.5V1136.1M1341.9 807.5V1136.1M1374.2 807.5V1136.1M1406.5 807.5V1136.1M1438.7 807.5V1136.1M1051.5 807.5H1438.7M1051.5 834.9H1438.7M1051.5 862.3H1438.7M1051.5 889.6H1438.7M1051.5 917.0H1438.7M1051.5 944.4H1438.7M1051.5 971.8H1438.7M1051.5 999.2H1438.7M1051.5 1026.5H1438.7M1051.5 1053.9H1438.7M1051.5 1081.3H1438.7M1051.5 1108.7H1438.7M1051.5 1136.1H1438.7" stroke="#222" stroke-width="1.5" fill="none"/>
<rect x="1048.3" y="805.3" width="393.1" height="333.7" fill="none" stroke="#1a1a1a" stroke-width="1.8"/>
<path d="M1067.6 805.3v2.5M1067.6 1139.0v-2.5M1099.9 805.3v2.5M1099.9 1139.0v-2.5M1132.2 805.3v2.5M1132.2 1139.0v-2.5M1164.4 805.3v2.5M1164.4 1139.0v-2.5M1196.7 805.3v2.5M1196.7 1139.0v-2.5M1229.0 805.3v2.5M1229.0 1139.0v-2.5M1261.3 805.3v2.5M1261.3 1139.0v-2.5M1293.5 805.3v2.5M1293.5 1139.0v-2.5M1325.8 805.3v2.5M1325.8 1139.0v-2.5M1358.1 805.3v2.5M1358.1 1139.0v-2.5M1390.3 805.3v2.5M1390.3 1139.0v-2.5M1422.6 805.3v2.5M1422.6 1139.0v-2.5M1048.3 821.2h2.5M1441.4 821.2h-2.5M1048.3 848.6h2.5M1441.4 848.6h-2.5M1048.3 876.0h2.5M1441.4 876.0h-2.5M1048.3 903.3h2.5M1441.4 903.3h-2.5M1048.3 930.7h2.5M1441.4 930.7h-2.5M1048.3 958.1h2.5M1441.4 958.1h-2.5M1048.3 985.5h2.5M1441.4 985.5h-2.5M1048.3 1012.9h2.5M1441.4 1012.9h-2.5M1048.3 1040.2h2.5M1441.4 1040.2h-2.5M1048.3 1067.6h2.5M1441.4 1067.6h-2.5M1048.3 1095.0h2.5M1441.4 1095.0h-2.5M1048.3 1122.4h2.5M1441.4 1122.4h-2.5" stroke="#444" stroke-width="1"/>
<text x="1249.7" y="793.3" font-size="26" text-anchor="middle">40 weeks after injection</text>
<rect x="871.6" y="817.4" width="168.89999999999998" height="236.5000000000001" fill="none" stroke="#b3b3b3" stroke-width="2" stroke-dasharray="7 5"/>
<rect x="871.6" y="1062.7" width="168.89999999999998" height="73.39999999999986" fill="none" stroke="#b3b3b3" stroke-width="2" stroke-dasharray="7 5"/>
<path d="M948.5 826.1L1034.0 826.1 M948.5 853.4L1034.0 853.4 M948.5 826.1L948.5 853.4 M924.7 839.8L948.5 839.8 M924.7 880.9L1034.0 880.9 M924.7 839.8L924.7 880.9 M915.4 860.3L924.7 860.3 M981.8 908.2L1034.0 908.2 M981.8 935.2L1034.0 935.2 M981.8 908.2L981.8 935.2 M969.8 921.7L981.8 921.7 M969.8 962.5L1034.0 962.5 M969.8 921.7L969.8 962.5 M945.0 942.1L969.8 942.1 M945.0 989.8L1034.0 989.8 M945.0 942.1L945.0 989.8 M915.4 966.0L945.0 966.0 M915.4 860.3L915.4 966.0 M885.5 913.1L915.4 913.1 M958.0 1017.3L1034.0 1017.3 M958.0 1044.6L1034.0 1044.6 M958.0 1017.3L958.0 1044.6 M885.5 1030.9L958.0 1030.9 M885.5 913.1L885.5 1030.9 M812.7 972.0L885.5 972.0 M812.7 972.0L812.7 1048.9" stroke="#e8562e" stroke-width="2" fill="none" stroke-linecap="square"/>
<path d="M989.0 1071.6L1034.0 1071.6 M989.0 1098.9L1034.0 1098.9 M989.0 1071.6L989.0 1098.9 M942.5 1085.2L989.0 1085.2 M942.5 1126.2L1034.0 1126.2 M942.5 1085.2L942.5 1126.2 M812.7 1105.7L942.5 1105.7 M812.7 1048.9L812.7 1105.7" stroke="#1aa9bf" stroke-width="2" fill="none" stroke-linecap="square"/>
<text x="1070.1" y="1152.0" font-size="19.2" text-anchor="end" transform="rotate(-45 1070.1 1152.0)"><tspan textLength="52.8" lengthAdjust="spacingAndGlyphs">iParkin</tspan><tspan font-size="0.62em" dy="-0.5em">DA</tspan><tspan dy="0.31em">_1</tspan></text>
<text x="1102.4" y="1152.0" font-size="19.2" text-anchor="end" transform="rotate(-45 1102.4 1152.0)">Control_1</text>
<text x="1134.7" y="1152.0" font-size="19.2" text-anchor="end" transform="rotate(-45 1134.7 1152.0)">Control_2</text>
<text x="1166.9" y="1152.0" font-size="19.2" text-anchor="end" transform="rotate(-45 1166.9 1152.0)">Control_3</text>
<text x="1199.2" y="1152.0" font-size="19.2" text-anchor="end" transform="rotate(-45 1199.2 1152.0)"><tspan textLength="52.8" lengthAdjust="spacingAndGlyphs">iParkin</tspan><tspan font-size="0.62em" dy="-0.5em">DA</tspan><tspan dy="0.31em">_2</tspan></text>
<text x="1231.5" y="1152.0" font-size="19.2" text-anchor="end" transform="rotate(-45 1231.5 1152.0)">Control_4</text>
<text x="1263.8" y="1152.0" font-size="19.2" text-anchor="end" transform="rotate(-45 1263.8 1152.0)"><tspan textLength="52.8" lengthAdjust="spacingAndGlyphs">iParkin</tspan><tspan font-size="0.62em" dy="-0.5em">DA</tspan><tspan dy="0.31em">_3</tspan></text>
<text x="1296.0" y="1152.0" font-size="19.2" text-anchor="end" transform="rotate(-45 1296.0 1152.0)">Control_5</text>
<text x="1328.3" y="1152.0" font-size="19.2" text-anchor="end" transform="rotate(-45 1328.3 1152.0)"><tspan textLength="52.8" lengthAdjust="spacingAndGlyphs">iParkin</tspan><tspan font-size="0.62em" dy="-0.5em">DA</tspan><tspan dy="0.31em">_4</tspan></text>
<text x="1360.6" y="1152.0" font-size="19.2" text-anchor="end" transform="rotate(-45 1360.6 1152.0)">Control_6</text>
<text x="1392.8" y="1152.0" font-size="19.2" text-anchor="end" transform="rotate(-45 1392.8 1152.0)">Control_7</text>
<text x="1425.1" y="1152.0" font-size="19.2" text-anchor="end" transform="rotate(-45 1425.1 1152.0)"><tspan textLength="52.8" lengthAdjust="spacingAndGlyphs">iParkin</tspan><tspan font-size="0.62em" dy="-0.5em">DA</tspan><tspan dy="0.31em">_5</tspan></text>
<rect x="244.0" y="1309.3" width="434.0" height="389.7" fill="none" stroke="#333" stroke-width="1.1"/>
<line x1="244.0" y1="1464.3" x2="678.0" y2="1464.3" stroke="#d9776f" stroke-width="1.4"/>
<line x1="244.0" y1="1538.0" x2="678.0" y2="1538.0" stroke="#d9776f" stroke-width="1.4"/>
<line x1="244.0" y1="1589.6" x2="678.0" y2="1589.6" stroke="#d9776f" stroke-width="1.4"/>
<text x="261.8" y="1727.5" font-size="13" text-anchor="middle" style="fill:#111">−6</text>
<text x="326.6" y="1727.5" font-size="13" text-anchor="middle" style="fill:#111">−4</text>
<text x="391.3" y="1727.5" font-size="13" text-anchor="middle" style="fill:#111">−2</text>
<text x="456.0" y="1727.5" font-size="13" text-anchor="middle" style="fill:#111">0</text>
<text x="520.7" y="1727.5" font-size="13" text-anchor="middle" style="fill:#111">2</text>
<text x="585.4" y="1727.5" font-size="13" text-anchor="middle" style="fill:#111">4</text>
<text x="650.2" y="1727.5" font-size="13" text-anchor="middle" style="fill:#111">6</text>
<text x="227.0" y="1685.5" font-size="13" text-anchor="middle" style="fill:#111" transform="rotate(-90 227.0 1685.5)">0</text>
<text x="227.0" y="1611.8" font-size="13" text-anchor="middle" style="fill:#111" transform="rotate(-90 227.0 1611.8)">1</text>
<text x="227.0" y="1538.0" font-size="13" text-anchor="middle" style="fill:#111" transform="rotate(-90 227.0 1538.0)">2</text>
<text x="227.0" y="1464.3" font-size="13" text-anchor="middle" style="fill:#111" transform="rotate(-90 227.0 1464.3)">3</text>
<text x="227.0" y="1390.5" font-size="13" text-anchor="middle" style="fill:#111" transform="rotate(-90 227.0 1390.5)">4</text>
<text x="227.0" y="1316.8" font-size="13" text-anchor="middle" style="fill:#111" transform="rotate(-90 227.0 1316.8)">5</text>
<path d="M261.8 1699.0v6M326.6 1699.0v6M391.3 1699.0v6M456.0 1699.0v6M520.7 1699.0v6M585.4 1699.0v6M650.2 1699.0v6M244.0 1685.5h-6M244.0 1611.8h-6M244.0 1538.0h-6M244.0 1464.3h-6M244.0 1390.5h-6M244.0 1316.8h-6" stroke="#333" stroke-width="1"/>
<text x="196.5" y="1503.0" font-size="20.3" text-anchor="middle" transform="rotate(-90 196.5 1503.0)">-log10(FDR)</text>
<text x="442.4" y="1763.4" font-size="20.3" text-anchor="middle">log2(FC)</text>
<text x="461" y="1290.7" font-size="26" text-anchor="middle">Control vs <tspan font-style="italic">iParkin</tspan><tspan font-style="italic" font-size="0.62em" dy="-0.55em">DA</tspan></text>
<text x="461.0" y="1807.2" font-size="26.2" text-anchor="middle">5 weeks after injection</text>
<rect x="350.8" y="1681.8" width="205.5" height="7.4" fill="#111"/>
<path d="M658.3 1324.2a3.2 3.2 0 1 0 6.4 0a3.2 3.2 0 1 0 -6.4 0M506.2 1512.2a3.2 3.2 0 1 0 6.4 0a3.2 3.2 0 1 0 -6.4 0M422.1 1580.8a3.2 3.2 0 1 0 6.4 0a3.2 3.2 0 1 0 -6.4 0M514.3 1580.8a3.2 3.2 0 1 0 6.4 0a3.2 3.2 0 1 0 -6.4 0M520.8 1580.8a3.2 3.2 0 1 0 6.4 0a3.2 3.2 0 1 0 -6.4 0M540.2 1580.8a3.2 3.2 0 1 0 6.4 0a3.2 3.2 0 1 0 -6.4 0M558.0 1579.3a3.2 3.2 0 1 0 6.4 0a3.2 3.2 0 1 0 -6.4 0M582.2 1580.8a3.2 3.2 0 1 0 6.4 0a3.2 3.2 0 1 0 -6.4 0M591.9 1579.3a3.2 3.2 0 1 0 6.4 0a3.2 3.2 0 1 0 -6.4 0M553.1 1590.4a3.2 3.2 0 1 0 6.4 0a3.2 3.2 0 1 0 -6.4 0M271.6 1611.0a3.2 3.2 0 1 0 6.4 0a3.2 3.2 0 1 0 -6.4 0M420.4 1604.4a3.2 3.2 0 1 0 6.4 0a3.2 3.2 0 1 0 -6.4 0M426.9 1611.0a3.2 3.2 0 1 0 6.4 0a3.2 3.2 0 1 0 -6.4 0M512.7 1600.7a3.2 3.2 0 1 0 6.4 0a3.2 3.2 0 1 0 -6.4 0M509.4 1611.0a3.2 3.2 0 1 0 6.4 0a3.2 3.2 0 1 0 -6.4 0M528.8 1611.0a3.2 3.2 0 1 0 6.4 0a3.2 3.2 0 1 0 -6.4 0M548.3 1611.0a3.2 3.2 0 1 0 6.4 0a3.2 3.2 0 1 0 -6.4 0M608.1 1611.0a3.2 3.2 0 1 0 6.4 0a3.2 3.2 0 1 0 -6.4 0M297.5 1630.9a3.2 3.2 0 1 0 6.4 0a3.2 3.2 0 1 0 -6.4 0M483.5 1626.5a3.2 3.2 0 1 0 6.4 0a3.2 3.2 0 1 0 -6.4 0M507.8 1625.0a3.2 3.2 0 1 0 6.4 0a3.2 3.2 0 1 0 -6.4 0M532.1 1622.1a3.2 3.2 0 1 0 6.4 0a3.2 3.2 0 1 0 -6.4 0M533.7 1621.3a3.2 3.2 0 1 0 6.4 0a3.2 3.2 0 1 0 -6.4 0M545.0 1630.2a3.2 3.2 0 1 0 6.4 0a3.2 3.2 0 1 0 -6.4 0M546.6 1633.9a3.2 3.2 0 1 0 6.4 0a3.2 3.2 0 1 0 -6.4 0M580.6 1627.2a3.2 3.2 0 1 0 6.4 0a3.2 3.2 0 1 0 -6.4 0M600.0 1637.6a3.2 3.2 0 1 0 6.4 0a3.2 3.2 0 1 0 -6.4 0M614.6 1633.1a3.2 3.2 0 1 0 6.4 0a3.2 3.2 0 1 0 -6.4 0M527.2 1633.9a3.2 3.2 0 1 0 6.4 0a3.2 3.2 0 1 0 -6.4 0M362.2 1647.2a3.2 3.2 0 1 0 6.4 0a3.2 3.2 0 1 0 -6.4 0M407.5 1638.3a3.2 3.2 0 1 0 6.4 0a3.2 3.2 0 1 0 -6.4 0M420.4 1644.9a3.2 3.2 0 1 0 6.4 0a3.2 3.2 0 1 0 -6.4 0M430.1 1644.9a3.2 3.2 0 1 0 6.4 0a3.2 3.2 0 1 0 -6.4 0M368.7 1659.0a3.2 3.2 0 1 0 6.4 0a3.2 3.2 0 1 0 -6.4 0M323.4 1664.9a3.2 3.2 0 1 0 6.4 0a3.2 3.2 0 1 0 -6.4 0M310.4 1670.8a3.2 3.2 0 1 0 6.4 0a3.2 3.2 0 1 0 -6.4 0M329.8 1672.2a3.2 3.2 0 1 0 6.4 0a3.2 3.2 0 1 0 -6.4 0M407.5 1659.0a3.2 3.2 0 1 0 6.4 0a3.2 3.2 0 1 0 -6.4 0M619.5 1664.1a3.2 3.2 0 1 0 6.4 0a3.2 3.2 0 1 0 -6.4 0M604.9 1659.7a3.2 3.2 0 1 0 6.4 0a3.2 3.2 0 1 0 -6.4 0M593.6 1663.4a3.2 3.2 0 1 0 6.4 0a3.2 3.2 0 1 0 -6.4 0M588.7 1669.3a3.2 3.2 0 1 0 6.4 0a3.2 3.2 0 1 0 -6.4 0M590.3 1678.1a3.2 3.2 0 1 0 6.4 0a3.2 3.2 0 1 0 -6.4 0M580.6 1667.8a3.2 3.2 0 1 0 6.4 0a3.2 3.2 0 1 0 -6.4 0M381.6 1677.4a3.2 3.2 0 1 0 6.4 0a3.2 3.2 0 1 0 -6.4 0M368.7 1675.9a3.2 3.2 0 1 0 6.4 0a3.2 3.2 0 1 0 -6.4 0M258.6 1685.5a3.2 3.2 0 1 0 6.4 0a3.2 3.2 0 1 0 -6.4 0M274.8 1685.5a3.2 3.2 0 1 0 6.4 0a3.2 3.2 0 1 0 -6.4 0M287.8 1685.5a3.2 3.2 0 1 0 6.4 0a3.2 3.2 0 1 0 -6.4 0M303.9 1685.5a3.2 3.2 0 1 0 6.4 0a3.2 3.2 0 1 0 -6.4 0M307.2 1685.5a3.2 3.2 0 1 0 6.4 0a3.2 3.2 0 1 0 -6.4 0M313.7 1685.5a3.2 3.2 0 1 0 6.4 0a3.2 3.2 0 1 0 -6.4 0M591.9 1685.5a3.2 3.2 0 1 0 6.4 0a3.2 3.2 0 1 0 -6.4 0M624.3 1685.5a3.2 3.2 0 1 0 6.4 0a3.2 3.2 0 1 0 -6.4 0M577.4 1685.5a3.2 3.2 0 1 0 6.4 0a3.2 3.2 0 1 0 -6.4 0M579.0 1685.5a3.2 3.2 0 1 0 6.4 0a3.2 3.2 0 1 0 -6.4 0M326.6 1685.5a3.2 3.2 0 1 0 6.4 0a3.2 3.2 0 1 0 -6.4 0M333.1 1685.5a3.2 3.2 0 1 0 6.4 0a3.2 3.2 0 1 0 -6.4 0M339.5 1682.6a3.2 3.2 0 1 0 6.4 0a3.2 3.2 0 1 0 -6.4 0M399.4 1672.2a3.2 3.2 0 1 0 6.4 0a3.2 3.2 0 1 0 -6.4 0M404.3 1677.4a3.2 3.2 0 1 0 6.4 0a3.2 3.2 0 1 0 -6.4 0M414.0 1676.7a3.2 3.2 0 1 0 6.4 0a3.2 3.2 0 1 0 -6.4 0M423.7 1667.1a3.2 3.2 0 1 0 6.4 0a3.2 3.2 0 1 0 -6.4 0M422.1 1670.8a3.2 3.2 0 1 0 6.4 0a3.2 3.2 0 1 0 -6.4 0M433.4 1657.5a3.2 3.2 0 1 0 6.4 0a3.2 3.2 0 1 0 -6.4 0M433.4 1663.4a3.2 3.2 0 1 0 6.4 0a3.2 3.2 0 1 0 -6.4 0M425.3 1678.1a3.2 3.2 0 1 0 6.4 0a3.2 3.2 0 1 0 -6.4 0M436.6 1680.3a3.2 3.2 0 1 0 6.4 0a3.2 3.2 0 1 0 -6.4 0M443.1 1678.1a3.2 3.2 0 1 0 6.4 0a3.2 3.2 0 1 0 -6.4 0M391.3 1681.1a3.2 3.2 0 1 0 6.4 0a3.2 3.2 0 1 0 -6.4 0M562.8 1647.2a3.2 3.2 0 1 0 6.4 0a3.2 3.2 0 1 0 -6.4 0M559.6 1657.5a3.2 3.2 0 1 0 6.4 0a3.2 3.2 0 1 0 -6.4 0M566.1 1659.7a3.2 3.2 0 1 0 6.4 0a3.2 3.2 0 1 0 -6.4 0M569.3 1670.8a3.2 3.2 0 1 0 6.4 0a3.2 3.2 0 1 0 -6.4 0M572.5 1676.7a3.2 3.2 0 1 0 6.4 0a3.2 3.2 0 1 0 -6.4 0M556.4 1667.1a3.2 3.2 0 1 0 6.4 0a3.2 3.2 0 1 0 -6.4 0M564.4 1674.4a3.2 3.2 0 1 0 6.4 0a3.2 3.2 0 1 0 -6.4 0M499.7 1647.2a3.2 3.2 0 1 0 6.4 0a3.2 3.2 0 1 0 -6.4 0M501.3 1650.8a3.2 3.2 0 1 0 6.4 0a3.2 3.2 0 1 0 -6.4 0M504.6 1646.4a3.2 3.2 0 1 0 6.4 0a3.2 3.2 0 1 0 -6.4 0M519.1 1644.9a3.2 3.2 0 1 0 6.4 0a3.2 3.2 0 1 0 -6.4 0M524.0 1646.4a3.2 3.2 0 1 0 6.4 0a3.2 3.2 0 1 0 -6.4 0M536.9 1644.9a3.2 3.2 0 1 0 6.4 0a3.2 3.2 0 1 0 -6.4 0M541.8 1651.6a3.2 3.2 0 1 0 6.4 0a3.2 3.2 0 1 0 -6.4 0M548.3 1644.9a3.2 3.2 0 1 0 6.4 0a3.2 3.2 0 1 0 -6.4 0M536.9 1638.3a3.2 3.2 0 1 0 6.4 0a3.2 3.2 0 1 0 -6.4 0M488.4 1636.8a3.2 3.2 0 1 0 6.4 0a3.2 3.2 0 1 0 -6.4 0M477.1 1642.7a3.2 3.2 0 1 0 6.4 0a3.2 3.2 0 1 0 -6.4 0M483.5 1644.2a3.2 3.2 0 1 0 6.4 0a3.2 3.2 0 1 0 -6.4 0M496.5 1648.6a3.2 3.2 0 1 0 6.4 0a3.2 3.2 0 1 0 -6.4 0M472.2 1657.5a3.2 3.2 0 1 0 6.4 0a3.2 3.2 0 1 0 -6.4 0M522.4 1663.4a3.2 3.2 0 1 0 6.4 0a3.2 3.2 0 1 0 -6.4 0M525.6 1664.9a3.2 3.2 0 1 0 6.4 0a3.2 3.2 0 1 0 -6.4 0M481.0 1675.5a3.2 3.2 0 1 0 6.4 0a3.2 3.2 0 1 0 -6.4 0M467.4 1671.6a3.2 3.2 0 1 0 6.4 0a3.2 3.2 0 1 0 -6.4 0M492.4 1682.8a3.2 3.2 0 1 0 6.4 0a3.2 3.2 0 1 0 -6.4 0M490.9 1682.5a3.2 3.2 0 1 0 6.4 0a3.2 3.2 0 1 0 -6.4 0M465.5 1681.4a3.2 3.2 0 1 0 6.4 0a3.2 3.2 0 1 0 -6.4 0M468.4 1683.7a3.2 3.2 0 1 0 6.4 0a3.2 3.2 0 1 0 -6.4 0M486.4 1682.7a3.2 3.2 0 1 0 6.4 0a3.2 3.2 0 1 0 -6.4 0M475.5 1680.1a3.2 3.2 0 1 0 6.4 0a3.2 3.2 0 1 0 -6.4 0M497.4 1670.8a3.2 3.2 0 1 0 6.4 0a3.2 3.2 0 1 0 -6.4 0M484.9 1680.5a3.2 3.2 0 1 0 6.4 0a3.2 3.2 0 1 0 -6.4 0M516.2 1663.2a3.2 3.2 0 1 0 6.4 0a3.2 3.2 0 1 0 -6.4 0M479.1 1678.8a3.2 3.2 0 1 0 6.4 0a3.2 3.2 0 1 0 -6.4 0M471.3 1678.0a3.2 3.2 0 1 0 6.4 0a3.2 3.2 0 1 0 -6.4 0M507.6 1678.7a3.2 3.2 0 1 0 6.4 0a3.2 3.2 0 1 0 -6.4 0M473.2 1670.8a3.2 3.2 0 1 0 6.4 0a3.2 3.2 0 1 0 -6.4 0M483.6 1677.2a3.2 3.2 0 1 0 6.4 0a3.2 3.2 0 1 0 -6.4 0M493.1 1681.7a3.2 3.2 0 1 0 6.4 0a3.2 3.2 0 1 0 -6.4 0M474.6 1683.9a3.2 3.2 0 1 0 6.4 0a3.2 3.2 0 1 0 -6.4 0M500.2 1676.3a3.2 3.2 0 1 0 6.4 0a3.2 3.2 0 1 0 -6.4 0M495.1 1681.0a3.2 3.2 0 1 0 6.4 0a3.2 3.2 0 1 0 -6.4 0M488.0 1679.0a3.2 3.2 0 1 0 6.4 0a3.2 3.2 0 1 0 -6.4 0M501.3 1665.5a3.2 3.2 0 1 0 6.4 0a3.2 3.2 0 1 0 -6.4 0M476.7 1672.6a3.2 3.2 0 1 0 6.4 0a3.2 3.2 0 1 0 -6.4 0M510.8 1679.0a3.2 3.2 0 1 0 6.4 0a3.2 3.2 0 1 0 -6.4 0M502.9 1677.7a3.2 3.2 0 1 0 6.4 0a3.2 3.2 0 1 0 -6.4 0M469.9 1653.4a3.2 3.2 0 1 0 6.4 0a3.2 3.2 0 1 0 -6.4 0M486.1 1685.2a3.2 3.2 0 1 0 6.4 0a3.2 3.2 0 1 0 -6.4 0M489.9 1678.7a3.2 3.2 0 1 0 6.4 0a3.2 3.2 0 1 0 -6.4 0M465.6 1675.6a3.2 3.2 0 1 0 6.4 0a3.2 3.2 0 1 0 -6.4 0M494.4 1668.0a3.2 3.2 0 1 0 6.4 0a3.2 3.2 0 1 0 -6.4 0M510.8 1678.4a3.2 3.2 0 1 0 6.4 0a3.2 3.2 0 1 0 -6.4 0M495.6 1668.8a3.2 3.2 0 1 0 6.4 0a3.2 3.2 0 1 0 -6.4 0M494.8 1663.8a3.2 3.2 0 1 0 6.4 0a3.2 3.2 0 1 0 -6.4 0M514.5 1679.4a3.2 3.2 0 1 0 6.4 0a3.2 3.2 0 1 0 -6.4 0M489.1 1683.4a3.2 3.2 0 1 0 6.4 0a3.2 3.2 0 1 0 -6.4 0M501.4 1681.9a3.2 3.2 0 1 0 6.4 0a3.2 3.2 0 1 0 -6.4 0M498.5 1663.6a3.2 3.2 0 1 0 6.4 0a3.2 3.2 0 1 0 -6.4 0M478.9 1684.5a3.2 3.2 0 1 0 6.4 0a3.2 3.2 0 1 0 -6.4 0M484.3 1684.3a3.2 3.2 0 1 0 6.4 0a3.2 3.2 0 1 0 -6.4 0M488.4 1683.3a3.2 3.2 0 1 0 6.4 0a3.2 3.2 0 1 0 -6.4 0M472.6 1682.5a3.2 3.2 0 1 0 6.4 0a3.2 3.2 0 1 0 -6.4 0M505.0 1682.7a3.2 3.2 0 1 0 6.4 0a3.2 3.2 0 1 0 -6.4 0M470.5 1685.3a3.2 3.2 0 1 0 6.4 0a3.2 3.2 0 1 0 -6.4 0M510.6 1673.8a3.2 3.2 0 1 0 6.4 0a3.2 3.2 0 1 0 -6.4 0M467.8 1671.4a3.2 3.2 0 1 0 6.4 0a3.2 3.2 0 1 0 -6.4 0M511.2 1680.8a3.2 3.2 0 1 0 6.4 0a3.2 3.2 0 1 0 -6.4 0M507.8 1679.2a3.2 3.2 0 1 0 6.4 0a3.2 3.2 0 1 0 -6.4 0M485.9 1678.3a3.2 3.2 0 1 0 6.4 0a3.2 3.2 0 1 0 -6.4 0M482.9 1663.3a3.2 3.2 0 1 0 6.4 0a3.2 3.2 0 1 0 -6.4 0M471.6 1665.8a3.2 3.2 0 1 0 6.4 0a3.2 3.2 0 1 0 -6.4 0M473.0 1684.5a3.2 3.2 0 1 0 6.4 0a3.2 3.2 0 1 0 -6.4 0M489.7 1677.0a3.2 3.2 0 1 0 6.4 0a3.2 3.2 0 1 0 -6.4 0M495.3 1685.4a3.2 3.2 0 1 0 6.4 0a3.2 3.2 0 1 0 -6.4 0M486.1 1684.4a3.2 3.2 0 1 0 6.4 0a3.2 3.2 0 1 0 -6.4 0M483.4 1658.8a3.2 3.2 0 1 0 6.4 0a3.2 3.2 0 1 0 -6.4 0M500.8 1673.7a3.2 3.2 0 1 0 6.4 0a3.2 3.2 0 1 0 -6.4 0M491.3 1672.4a3.2 3.2 0 1 0 6.4 0a3.2 3.2 0 1 0 -6.4 0M466.4 1673.6a3.2 3.2 0 1 0 6.4 0a3.2 3.2 0 1 0 -6.4 0M512.1 1681.0a3.2 3.2 0 1 0 6.4 0a3.2 3.2 0 1 0 -6.4 0M506.6 1661.9a3.2 3.2 0 1 0 6.4 0a3.2 3.2 0 1 0 -6.4 0M484.7 1681.1a3.2 3.2 0 1 0 6.4 0a3.2 3.2 0 1 0 -6.4 0M497.8 1682.2a3.2 3.2 0 1 0 6.4 0a3.2 3.2 0 1 0 -6.4 0M466.8 1678.1a3.2 3.2 0 1 0 6.4 0a3.2 3.2 0 1 0 -6.4 0M472.2 1682.2a3.2 3.2 0 1 0 6.4 0a3.2 3.2 0 1 0 -6.4 0M481.9 1685.3a3.2 3.2 0 1 0 6.4 0a3.2 3.2 0 1 0 -6.4 0M471.7 1685.4a3.2 3.2 0 1 0 6.4 0a3.2 3.2 0 1 0 -6.4 0M469.0 1683.7a3.2 3.2 0 1 0 6.4 0a3.2 3.2 0 1 0 -6.4 0M510.7 1683.5a3.2 3.2 0 1 0 6.4 0a3.2 3.2 0 1 0 -6.4 0M496.7 1680.1a3.2 3.2 0 1 0 6.4 0a3.2 3.2 0 1 0 -6.4 0M482.3 1678.3a3.2 3.2 0 1 0 6.4 0a3.2 3.2 0 1 0 -6.4 0M483.2 1669.1a3.2 3.2 0 1 0 6.4 0a3.2 3.2 0 1 0 -6.4 0M517.1 1669.5a3.2 3.2 0 1 0 6.4 0a3.2 3.2 0 1 0 -6.4 0M488.7 1680.5a3.2 3.2 0 1 0 6.4 0a3.2 3.2 0 1 0 -6.4 0M469.0 1685.0a3.2 3.2 0 1 0 6.4 0a3.2 3.2 0 1 0 -6.4 0M482.0 1683.4a3.2 3.2 0 1 0 6.4 0a3.2 3.2 0 1 0 -6.4 0M472.2 1663.4a3.2 3.2 0 1 0 6.4 0a3.2 3.2 0 1 0 -6.4 0M464.7 1671.7a3.2 3.2 0 1 0 6.4 0a3.2 3.2 0 1 0 -6.4 0M471.4 1681.1a3.2 3.2 0 1 0 6.4 0a3.2 3.2 0 1 0 -6.4 0M492.8 1671.2a3.2 3.2 0 1 0 6.4 0a3.2 3.2 0 1 0 -6.4 0M516.4 1683.1a3.2 3.2 0 1 0 6.4 0a3.2 3.2 0 1 0 -6.4 0M510.1 1682.5a3.2 3.2 0 1 0 6.4 0a3.2 3.2 0 1 0 -6.4 0M483.3 1676.8a3.2 3.2 0 1 0 6.4 0a3.2 3.2 0 1 0 -6.4 0M472.5 1683.5a3.2 3.2 0 1 0 6.4 0a3.2 3.2 0 1 0 -6.4 0M505.6 1671.1a3.2 3.2 0 1 0 6.4 0a3.2 3.2 0 1 0 -6.4 0M481.3 1681.9a3.2 3.2 0 1 0 6.4 0a3.2 3.2 0 1 0 -6.4 0M516.7 1664.3a3.2 3.2 0 1 0 6.4 0a3.2 3.2 0 1 0 -6.4 0M509.6 1678.0a3.2 3.2 0 1 0 6.4 0a3.2 3.2 0 1 0 -6.4 0M503.5 1665.0a3.2 3.2 0 1 0 6.4 0a3.2 3.2 0 1 0 -6.4 0M475.7 1674.5a3.2 3.2 0 1 0 6.4 0a3.2 3.2 0 1 0 -6.4 0M465.0 1684.3a3.2 3.2 0 1 0 6.4 0a3.2 3.2 0 1 0 -6.4 0M465.0 1683.8a3.2 3.2 0 1 0 6.4 0a3.2 3.2 0 1 0 -6.4 0M500.9 1676.5a3.2 3.2 0 1 0 6.4 0a3.2 3.2 0 1 0 -6.4 0M515.2 1659.3a3.2 3.2 0 1 0 6.4 0a3.2 3.2 0 1 0 -6.4 0M516.9 1676.5a3.2 3.2 0 1 0 6.4 0a3.2 3.2 0 1 0 -6.4 0M515.1 1680.0a3.2 3.2 0 1 0 6.4 0a3.2 3.2 0 1 0 -6.4 0M475.7 1679.2a3.2 3.2 0 1 0 6.4 0a3.2 3.2 0 1 0 -6.4 0M474.1 1680.8a3.2 3.2 0 1 0 6.4 0a3.2 3.2 0 1 0 -6.4 0M512.1 1669.7a3.2 3.2 0 1 0 6.4 0a3.2 3.2 0 1 0 -6.4 0M508.9 1668.5a3.2 3.2 0 1 0 6.4 0a3.2 3.2 0 1 0 -6.4 0M506.7 1683.3a3.2 3.2 0 1 0 6.4 0a3.2 3.2 0 1 0 -6.4 0M468.1 1671.7a3.2 3.2 0 1 0 6.4 0a3.2 3.2 0 1 0 -6.4 0M505.8 1663.6a3.2 3.2 0 1 0 6.4 0a3.2 3.2 0 1 0 -6.4 0M504.0 1678.2a3.2 3.2 0 1 0 6.4 0a3.2 3.2 0 1 0 -6.4 0M506.1 1684.5a3.2 3.2 0 1 0 6.4 0a3.2 3.2 0 1 0 -6.4 0M481.4 1675.6a3.2 3.2 0 1 0 6.4 0a3.2 3.2 0 1 0 -6.4 0M484.9 1655.6a3.2 3.2 0 1 0 6.4 0a3.2 3.2 0 1 0 -6.4 0M485.2 1667.6a3.2 3.2 0 1 0 6.4 0a3.2 3.2 0 1 0 -6.4 0M472.7 1679.3a3.2 3.2 0 1 0 6.4 0a3.2 3.2 0 1 0 -6.4 0M470.3 1670.6a3.2 3.2 0 1 0 6.4 0a3.2 3.2 0 1 0 -6.4 0M507.1 1664.7a3.2 3.2 0 1 0 6.4 0a3.2 3.2 0 1 0 -6.4 0M471.4 1670.2a3.2 3.2 0 1 0 6.4 0a3.2 3.2 0 1 0 -6.4 0M499.0 1656.2a3.2 3.2 0 1 0 6.4 0a3.2 3.2 0 1 0 -6.4 0M482.4 1679.5a3.2 3.2 0 1 0 6.4 0a3.2 3.2 0 1 0 -6.4 0M464.2 1683.6a3.2 3.2 0 1 0 6.4 0a3.2 3.2 0 1 0 -6.4 0M515.9 1677.0a3.2 3.2 0 1 0 6.4 0a3.2 3.2 0 1 0 -6.4 0M513.9 1673.8a3.2 3.2 0 1 0 6.4 0a3.2 3.2 0 1 0 -6.4 0M486.9 1670.2a3.2 3.2 0 1 0 6.4 0a3.2 3.2 0 1 0 -6.4 0M474.9 1669.6a3.2 3.2 0 1 0 6.4 0a3.2 3.2 0 1 0 -6.4 0M477.1 1683.2a3.2 3.2 0 1 0 6.4 0a3.2 3.2 0 1 0 -6.4 0M495.2 1677.1a3.2 3.2 0 1 0 6.4 0a3.2 3.2 0 1 0 -6.4 0M477.5 1680.0a3.2 3.2 0 1 0 6.4 0a3.2 3.2 0 1 0 -6.4 0M512.7 1682.5a3.2 3.2 0 1 0 6.4 0a3.2 3.2 0 1 0 -6.4 0M482.6 1670.4a3.2 3.2 0 1 0 6.4 0a3.2 3.2 0 1 0 -6.4 0M512.3 1681.4a3.2 3.2 0 1 0 6.4 0a3.2 3.2 0 1 0 -6.4 0M486.2 1673.4a3.2 3.2 0 1 0 6.4 0a3.2 3.2 0 1 0 -6.4 0M492.2 1678.6a3.2 3.2 0 1 0 6.4 0a3.2 3.2 0 1 0 -6.4 0M491.8 1672.9a3.2 3.2 0 1 0 6.4 0a3.2 3.2 0 1 0 -6.4 0M473.4 1684.0a3.2 3.2 0 1 0 6.4 0a3.2 3.2 0 1 0 -6.4 0M463.7 1683.3a3.2 3.2 0 1 0 6.4 0a3.2 3.2 0 1 0 -6.4 0M489.1 1678.6a3.2 3.2 0 1 0 6.4 0a3.2 3.2 0 1 0 -6.4 0M502.7 1675.7a3.2 3.2 0 1 0 6.4 0a3.2 3.2 0 1 0 -6.4 0M491.5 1681.9a3.2 3.2 0 1 0 6.4 0a3.2 3.2 0 1 0 -6.4 0M493.5 1684.3a3.2 3.2 0 1 0 6.4 0a3.2 3.2 0 1 0 -6.4 0M493.8 1680.0a3.2 3.2 0 1 0 6.4 0a3.2 3.2 0 1 0 -6.4 0M476.9 1682.1a3.2 3.2 0 1 0 6.4 0a3.2 3.2 0 1 0 -6.4 0M490.9 1665.5a3.2 3.2 0 1 0 6.4 0a3.2 3.2 0 1 0 -6.4 0M493.8 1683.9a3.2 3.2 0 1 0 6.4 0a3.2 3.2 0 1 0 -6.4 0M487.4 1659.5a3.2 3.2 0 1 0 6.4 0a3.2 3.2 0 1 0 -6.4 0M496.6 1671.4a3.2 3.2 0 1 0 6.4 0a3.2 3.2 0 1 0 -6.4 0M500.9 1685.0a3.2 3.2 0 1 0 6.4 0a3.2 3.2 0 1 0 -6.4 0M487.9 1672.3a3.2 3.2 0 1 0 6.4 0a3.2 3.2 0 1 0 -6.4 0M514.4 1682.7a3.2 3.2 0 1 0 6.4 0a3.2 3.2 0 1 0 -6.4 0M501.3 1665.4a3.2 3.2 0 1 0 6.4 0a3.2 3.2 0 1 0 -6.4 0M477.5 1665.8a3.2 3.2 0 1 0 6.4 0a3.2 3.2 0 1 0 -6.4 0M493.7 1664.3a3.2 3.2 0 1 0 6.4 0a3.2 3.2 0 1 0 -6.4 0M470.9 1677.6a3.2 3.2 0 1 0 6.4 0a3.2 3.2 0 1 0 -6.4 0M470.1 1681.2a3.2 3.2 0 1 0 6.4 0a3.2 3.2 0 1 0 -6.4 0M476.5 1683.9a3.2 3.2 0 1 0 6.4 0a3.2 3.2 0 1 0 -6.4 0M467.4 1675.5a3.2 3.2 0 1 0 6.4 0a3.2 3.2 0 1 0 -6.4 0M512.0 1667.4a3.2 3.2 0 1 0 6.4 0a3.2 3.2 0 1 0 -6.4 0M471.8 1681.8a3.2 3.2 0 1 0 6.4 0a3.2 3.2 0 1 0 -6.4 0M471.2 1668.6a3.2 3.2 0 1 0 6.4 0a3.2 3.2 0 1 0 -6.4 0M511.2 1677.4a3.2 3.2 0 1 0 6.4 0a3.2 3.2 0 1 0 -6.4 0M515.0 1683.8a3.2 3.2 0 1 0 6.4 0a3.2 3.2 0 1 0 -6.4 0M485.0 1652.3a3.2 3.2 0 1 0 6.4 0a3.2 3.2 0 1 0 -6.4 0M508.5 1682.6a3.2 3.2 0 1 0 6.4 0a3.2 3.2 0 1 0 -6.4 0M472.2 1672.6a3.2 3.2 0 1 0 6.4 0a3.2 3.2 0 1 0 -6.4 0M481.8 1679.6a3.2 3.2 0 1 0 6.4 0a3.2 3.2 0 1 0 -6.4 0M474.1 1677.6a3.2 3.2 0 1 0 6.4 0a3.2 3.2 0 1 0 -6.4 0M464.5 1668.3a3.2 3.2 0 1 0 6.4 0a3.2 3.2 0 1 0 -6.4 0M493.4 1683.4a3.2 3.2 0 1 0 6.4 0a3.2 3.2 0 1 0 -6.4 0M481.4 1684.7a3.2 3.2 0 1 0 6.4 0a3.2 3.2 0 1 0 -6.4 0M497.2 1681.2a3.2 3.2 0 1 0 6.4 0a3.2 3.2 0 1 0 -6.4 0M516.7 1685.2a3.2 3.2 0 1 0 6.4 0a3.2 3.2 0 1 0 -6.4 0M506.1 1680.0a3.2 3.2 0 1 0 6.4 0a3.2 3.2 0 1 0 -6.4 0M477.8 1684.5a3.2 3.2 0 1 0 6.4 0a3.2 3.2 0 1 0 -6.4 0M465.6 1683.8a3.2 3.2 0 1 0 6.4 0a3.2 3.2 0 1 0 -6.4 0M470.5 1676.3a3.2 3.2 0 1 0 6.4 0a3.2 3.2 0 1 0 -6.4 0M486.3 1667.0a3.2 3.2 0 1 0 6.4 0a3.2 3.2 0 1 0 -6.4 0M477.5 1674.0a3.2 3.2 0 1 0 6.4 0a3.2 3.2 0 1 0 -6.4 0M525.3 1670.4a3.2 3.2 0 1 0 6.4 0a3.2 3.2 0 1 0 -6.4 0M553.8 1677.1a3.2 3.2 0 1 0 6.4 0a3.2 3.2 0 1 0 -6.4 0M522.2 1666.5a3.2 3.2 0 1 0 6.4 0a3.2 3.2 0 1 0 -6.4 0M539.5 1678.3a3.2 3.2 0 1 0 6.4 0a3.2 3.2 0 1 0 -6.4 0M521.3 1668.1a3.2 3.2 0 1 0 6.4 0a3.2 3.2 0 1 0 -6.4 0M559.0 1678.4a3.2 3.2 0 1 0 6.4 0a3.2 3.2 0 1 0 -6.4 0M521.9 1682.4a3.2 3.2 0 1 0 6.4 0a3.2 3.2 0 1 0 -6.4 0M562.2 1681.6a3.2 3.2 0 1 0 6.4 0a3.2 3.2 0 1 0 -6.4 0M541.0 1676.5a3.2 3.2 0 1 0 6.4 0a3.2 3.2 0 1 0 -6.4 0M565.5 1671.2a3.2 3.2 0 1 0 6.4 0a3.2 3.2 0 1 0 -6.4 0M531.4 1674.3a3.2 3.2 0 1 0 6.4 0a3.2 3.2 0 1 0 -6.4 0M529.9 1673.7a3.2 3.2 0 1 0 6.4 0a3.2 3.2 0 1 0 -6.4 0M523.2 1683.2a3.2 3.2 0 1 0 6.4 0a3.2 3.2 0 1 0 -6.4 0M528.0 1681.9a3.2 3.2 0 1 0 6.4 0a3.2 3.2 0 1 0 -6.4 0M533.7 1677.9a3.2 3.2 0 1 0 6.4 0a3.2 3.2 0 1 0 -6.4 0M532.5 1664.4a3.2 3.2 0 1 0 6.4 0a3.2 3.2 0 1 0 -6.4 0M543.4 1680.1a3.2 3.2 0 1 0 6.4 0a3.2 3.2 0 1 0 -6.4 0M518.5 1674.5a3.2 3.2 0 1 0 6.4 0a3.2 3.2 0 1 0 -6.4 0M530.5 1664.0a3.2 3.2 0 1 0 6.4 0a3.2 3.2 0 1 0 -6.4 0M546.1 1683.4a3.2 3.2 0 1 0 6.4 0a3.2 3.2 0 1 0 -6.4 0M527.3 1654.9a3.2 3.2 0 1 0 6.4 0a3.2 3.2 0 1 0 -6.4 0M523.0 1680.6a3.2 3.2 0 1 0 6.4 0a3.2 3.2 0 1 0 -6.4 0M559.9 1671.4a3.2 3.2 0 1 0 6.4 0a3.2 3.2 0 1 0 -6.4 0M560.7 1679.1a3.2 3.2 0 1 0 6.4 0a3.2 3.2 0 1 0 -6.4 0M537.9 1665.3a3.2 3.2 0 1 0 6.4 0a3.2 3.2 0 1 0 -6.4 0M568.4 1684.6a3.2 3.2 0 1 0 6.4 0a3.2 3.2 0 1 0 -6.4 0M535.3 1675.2a3.2 3.2 0 1 0 6.4 0a3.2 3.2 0 1 0 -6.4 0M550.4 1667.4a3.2 3.2 0 1 0 6.4 0a3.2 3.2 0 1 0 -6.4 0M538.5 1682.9a3.2 3.2 0 1 0 6.4 0a3.2 3.2 0 1 0 -6.4 0M524.2 1681.9a3.2 3.2 0 1 0 6.4 0a3.2 3.2 0 1 0 -6.4 0M521.2 1684.9a3.2 3.2 0 1 0 6.4 0a3.2 3.2 0 1 0 -6.4 0M526.0 1675.3a3.2 3.2 0 1 0 6.4 0a3.2 3.2 0 1 0 -6.4 0M521.9 1670.9a3.2 3.2 0 1 0 6.4 0a3.2 3.2 0 1 0 -6.4 0M552.2 1663.0a3.2 3.2 0 1 0 6.4 0a3.2 3.2 0 1 0 -6.4 0M532.1 1685.0a3.2 3.2 0 1 0 6.4 0a3.2 3.2 0 1 0 -6.4 0M541.3 1674.5a3.2 3.2 0 1 0 6.4 0a3.2 3.2 0 1 0 -6.4 0M525.7 1675.7a3.2 3.2 0 1 0 6.4 0a3.2 3.2 0 1 0 -6.4 0M567.3 1682.0a3.2 3.2 0 1 0 6.4 0a3.2 3.2 0 1 0 -6.4 0M567.9 1676.0a3.2 3.2 0 1 0 6.4 0a3.2 3.2 0 1 0 -6.4 0M567.5 1682.6a3.2 3.2 0 1 0 6.4 0a3.2 3.2 0 1 0 -6.4 0M533.5 1685.1a3.2 3.2 0 1 0 6.4 0a3.2 3.2 0 1 0 -6.4 0M537.3 1685.0a3.2 3.2 0 1 0 6.4 0a3.2 3.2 0 1 0 -6.4 0M542.1 1676.6a3.2 3.2 0 1 0 6.4 0a3.2 3.2 0 1 0 -6.4 0M543.7 1685.3a3.2 3.2 0 1 0 6.4 0a3.2 3.2 0 1 0 -6.4 0M517.8 1685.0a3.2 3.2 0 1 0 6.4 0a3.2 3.2 0 1 0 -6.4 0M538.2 1679.8a3.2 3.2 0 1 0 6.4 0a3.2 3.2 0 1 0 -6.4 0M519.7 1674.3a3.2 3.2 0 1 0 6.4 0a3.2 3.2 0 1 0 -6.4 0M529.6 1683.9a3.2 3.2 0 1 0 6.4 0a3.2 3.2 0 1 0 -6.4 0M547.8 1663.8a3.2 3.2 0 1 0 6.4 0a3.2 3.2 0 1 0 -6.4 0M551.6 1681.5a3.2 3.2 0 1 0 6.4 0a3.2 3.2 0 1 0 -6.4 0M554.6 1675.9a3.2 3.2 0 1 0 6.4 0a3.2 3.2 0 1 0 -6.4 0M534.4 1676.4a3.2 3.2 0 1 0 6.4 0a3.2 3.2 0 1 0 -6.4 0M568.5 1672.9a3.2 3.2 0 1 0 6.4 0a3.2 3.2 0 1 0 -6.4 0M550.8 1668.3a3.2 3.2 0 1 0 6.4 0a3.2 3.2 0 1 0 -6.4 0M519.8 1671.2a3.2 3.2 0 1 0 6.4 0a3.2 3.2 0 1 0 -6.4 0M550.0 1661.4a3.2 3.2 0 1 0 6.4 0a3.2 3.2 0 1 0 -6.4 0M555.5 1682.7a3.2 3.2 0 1 0 6.4 0a3.2 3.2 0 1 0 -6.4 0M544.6 1678.8a3.2 3.2 0 1 0 6.4 0a3.2 3.2 0 1 0 -6.4 0M543.6 1673.3a3.2 3.2 0 1 0 6.4 0a3.2 3.2 0 1 0 -6.4 0M560.3 1664.8a3.2 3.2 0 1 0 6.4 0a3.2 3.2 0 1 0 -6.4 0M547.8 1669.8a3.2 3.2 0 1 0 6.4 0a3.2 3.2 0 1 0 -6.4 0M553.4 1673.0a3.2 3.2 0 1 0 6.4 0a3.2 3.2 0 1 0 -6.4 0M529.4 1678.5a3.2 3.2 0 1 0 6.4 0a3.2 3.2 0 1 0 -6.4 0M536.2 1684.1a3.2 3.2 0 1 0 6.4 0a3.2 3.2 0 1 0 -6.4 0M523.0 1676.8a3.2 3.2 0 1 0 6.4 0a3.2 3.2 0 1 0 -6.4 0M550.0 1670.9a3.2 3.2 0 1 0 6.4 0a3.2 3.2 0 1 0 -6.4 0M549.9 1679.0a3.2 3.2 0 1 0 6.4 0a3.2 3.2 0 1 0 -6.4 0M517.7 1671.5a3.2 3.2 0 1 0 6.4 0a3.2 3.2 0 1 0 -6.4 0M558.8 1685.3a3.2 3.2 0 1 0 6.4 0a3.2 3.2 0 1 0 -6.4 0M545.2 1669.8a3.2 3.2 0 1 0 6.4 0a3.2 3.2 0 1 0 -6.4 0M426.6 1675.6a3.2 3.2 0 1 0 6.4 0a3.2 3.2 0 1 0 -6.4 0M406.8 1681.1a3.2 3.2 0 1 0 6.4 0a3.2 3.2 0 1 0 -6.4 0M398.2 1684.5a3.2 3.2 0 1 0 6.4 0a3.2 3.2 0 1 0 -6.4 0M404.5 1674.8a3.2 3.2 0 1 0 6.4 0a3.2 3.2 0 1 0 -6.4 0M430.5 1677.8a3.2 3.2 0 1 0 6.4 0a3.2 3.2 0 1 0 -6.4 0M413.1 1684.3a3.2 3.2 0 1 0 6.4 0a3.2 3.2 0 1 0 -6.4 0M417.8 1680.9a3.2 3.2 0 1 0 6.4 0a3.2 3.2 0 1 0 -6.4 0M424.5 1675.1a3.2 3.2 0 1 0 6.4 0a3.2 3.2 0 1 0 -6.4 0M425.8 1682.2a3.2 3.2 0 1 0 6.4 0a3.2 3.2 0 1 0 -6.4 0M406.9 1683.7a3.2 3.2 0 1 0 6.4 0a3.2 3.2 0 1 0 -6.4 0M430.6 1682.6a3.2 3.2 0 1 0 6.4 0a3.2 3.2 0 1 0 -6.4 0M395.2 1677.4a3.2 3.2 0 1 0 6.4 0a3.2 3.2 0 1 0 -6.4 0M397.5 1684.3a3.2 3.2 0 1 0 6.4 0a3.2 3.2 0 1 0 -6.4 0M428.2 1675.7a3.2 3.2 0 1 0 6.4 0a3.2 3.2 0 1 0 -6.4 0M427.4 1683.5a3.2 3.2 0 1 0 6.4 0a3.2 3.2 0 1 0 -6.4 0M417.1 1677.8a3.2 3.2 0 1 0 6.4 0a3.2 3.2 0 1 0 -6.4 0M417.2 1675.2a3.2 3.2 0 1 0 6.4 0a3.2 3.2 0 1 0 -6.4 0M404.2 1676.0a3.2 3.2 0 1 0 6.4 0a3.2 3.2 0 1 0 -6.4 0M442.0 1684.4a3.2 3.2 0 1 0 6.4 0a3.2 3.2 0 1 0 -6.4 0M416.8 1685.0a3.2 3.2 0 1 0 6.4 0a3.2 3.2 0 1 0 -6.4 0M434.3 1678.4a3.2 3.2 0 1 0 6.4 0a3.2 3.2 0 1 0 -6.4 0M407.6 1684.1a3.2 3.2 0 1 0 6.4 0a3.2 3.2 0 1 0 -6.4 0M404.7 1681.2a3.2 3.2 0 1 0 6.4 0a3.2 3.2 0 1 0 -6.4 0M422.8 1684.0a3.2 3.2 0 1 0 6.4 0a3.2 3.2 0 1 0 -6.4 0M401.4 1669.3a3.2 3.2 0 1 0 6.4 0a3.2 3.2 0 1 0 -6.4 0M401.0 1683.0a3.2 3.2 0 1 0 6.4 0a3.2 3.2 0 1 0 -6.4 0M434.4 1671.7a3.2 3.2 0 1 0 6.4 0a3.2 3.2 0 1 0 -6.4 0M428.7 1684.7a3.2 3.2 0 1 0 6.4 0a3.2 3.2 0 1 0 -6.4 0M405.8 1679.4a3.2 3.2 0 1 0 6.4 0a3.2 3.2 0 1 0 -6.4 0M395.8 1680.9a3.2 3.2 0 1 0 6.4 0a3.2 3.2 0 1 0 -6.4 0M394.7 1678.2a3.2 3.2 0 1 0 6.4 0a3.2 3.2 0 1 0 -6.4 0M409.2 1685.1a3.2 3.2 0 1 0 6.4 0a3.2 3.2 0 1 0 -6.4 0M401.4 1682.3a3.2 3.2 0 1 0 6.4 0a3.2 3.2 0 1 0 -6.4 0M435.3 1680.7a3.2 3.2 0 1 0 6.4 0a3.2 3.2 0 1 0 -6.4 0M394.6 1685.4a3.2 3.2 0 1 0 6.4 0a3.2 3.2 0 1 0 -6.4 0M305.6 1685.5a3.2 3.2 0 1 0 6.4 0a3.2 3.2 0 1 0 -6.4 0M308.8 1685.5a3.2 3.2 0 1 0 6.4 0a3.2 3.2 0 1 0 -6.4 0M313.7 1685.5a3.2 3.2 0 1 0 6.4 0a3.2 3.2 0 1 0 -6.4 0M323.4 1685.5a3.2 3.2 0 1 0 6.4 0a3.2 3.2 0 1 0 -6.4 0M326.6 1685.5a3.2 3.2 0 1 0 6.4 0a3.2 3.2 0 1 0 -6.4 0M329.8 1685.5a3.2 3.2 0 1 0 6.4 0a3.2 3.2 0 1 0 -6.4 0M333.1 1685.5a3.2 3.2 0 1 0 6.4 0a3.2 3.2 0 1 0 -6.4 0M336.3 1685.5a3.2 3.2 0 1 0 6.4 0a3.2 3.2 0 1 0 -6.4 0M339.5 1685.5a3.2 3.2 0 1 0 6.4 0a3.2 3.2 0 1 0 -6.4 0M342.8 1685.5a3.2 3.2 0 1 0 6.4 0a3.2 3.2 0 1 0 -6.4 0M346.0 1685.5a3.2 3.2 0 1 0 6.4 0a3.2 3.2 0 1 0 -6.4 0M554.7 1685.5a3.2 3.2 0 1 0 6.4 0a3.2 3.2 0 1 0 -6.4 0M556.4 1685.5a3.2 3.2 0 1 0 6.4 0a3.2 3.2 0 1 0 -6.4 0M559.6 1685.5a3.2 3.2 0 1 0 6.4 0a3.2 3.2 0 1 0 -6.4 0M561.2 1685.5a3.2 3.2 0 1 0 6.4 0a3.2 3.2 0 1 0 -6.4 0M564.4 1685.5a3.2 3.2 0 1 0 6.4 0a3.2 3.2 0 1 0 -6.4 0M567.7 1685.5a3.2 3.2 0 1 0 6.4 0a3.2 3.2 0 1 0 -6.4 0M569.3 1685.5a3.2 3.2 0 1 0 6.4 0a3.2 3.2 0 1 0 -6.4 0M570.9 1685.5a3.2 3.2 0 1 0 6.4 0a3.2 3.2 0 1 0 -6.4 0" fill="none" stroke="#1a1a1a" stroke-width="0.9"/>
<rect x="1000.7" y="1300.0" width="434.0" height="391.1" fill="none" stroke="#333" stroke-width="1.1"/>
<text x="1054.8" y="1719.5" font-size="12.5" text-anchor="middle" style="fill:#222">−4</text>
<text x="1130.4" y="1719.5" font-size="12.5" text-anchor="middle" style="fill:#222">−2</text>
<text x="1206.0" y="1719.5" font-size="12.5" text-anchor="middle" style="fill:#222">0</text>
<text x="1281.6" y="1719.5" font-size="12.5" text-anchor="middle" style="fill:#222">2</text>
<text x="1357.2" y="1719.5" font-size="12.5" text-anchor="middle" style="fill:#222">4</text>
<text x="1432.8" y="1719.5" font-size="12.5" text-anchor="middle" style="fill:#222">6</text>
<text x="984.5" y="1676.6" font-size="12.5" text-anchor="middle" style="fill:#222" transform="rotate(-90 984.5 1676.6)">0.0</text>
<text x="984.5" y="1577.2" font-size="12.5" text-anchor="middle" style="fill:#222" transform="rotate(-90 984.5 1577.2)">0.1</text>
<text x="984.5" y="1477.8" font-size="12.5" text-anchor="middle" style="fill:#222" transform="rotate(-90 984.5 1477.8)">0.2</text>
<text x="984.5" y="1378.4" font-size="12.5" text-anchor="middle" style="fill:#222" transform="rotate(-90 984.5 1378.4)">0.3</text>
<path d="M1054.8 1691.1v6M1130.4 1691.1v6M1206.0 1691.1v6M1281.6 1691.1v6M1357.2 1691.1v6M1432.8 1691.1v6M1000.7 1676.6h-6M1000.7 1577.2h-6M1000.7 1477.8h-6M1000.7 1378.4h-6" stroke="#333" stroke-width="1"/>
<text x="954.0" y="1498.3" font-size="20.3" text-anchor="middle" transform="rotate(-90 954.0 1498.3)">-log10(FDR)</text>
<text x="1228.6" y="1763.4" font-size="20.3" text-anchor="middle">log2(FC)</text>
<text x="1217.7" y="1290.7" font-size="26" text-anchor="middle">Control vs <tspan font-style="italic">iParkin</tspan><tspan font-style="italic" font-size="0.62em" dy="-0.55em">DA</tspan></text>
<text x="1228.2" y="1807.2" font-size="26.3" text-anchor="middle">40 weeks after injection</text>
<rect x="1081.3" y="1672.9" width="255.2" height="7.4" fill="#111"/>
<path d="M1267.8 1313.8a3.2 3.2 0 1 0 6.4 0a3.2 3.2 0 1 0 -6.4 0M1261.4 1511.6a3.2 3.2 0 1 0 6.4 0a3.2 3.2 0 1 0 -6.4 0M1013.8 1676.6a3.2 3.2 0 1 0 6.4 0a3.2 3.2 0 1 0 -6.4 0M1034.6 1676.6a3.2 3.2 0 1 0 6.4 0a3.2 3.2 0 1 0 -6.4 0M1047.8 1676.6a3.2 3.2 0 1 0 6.4 0a3.2 3.2 0 1 0 -6.4 0M1057.3 1676.6a3.2 3.2 0 1 0 6.4 0a3.2 3.2 0 1 0 -6.4 0M1062.9 1676.6a3.2 3.2 0 1 0 6.4 0a3.2 3.2 0 1 0 -6.4 0M1068.6 1676.6a3.2 3.2 0 1 0 6.4 0a3.2 3.2 0 1 0 -6.4 0M1072.4 1676.6a3.2 3.2 0 1 0 6.4 0a3.2 3.2 0 1 0 -6.4 0M1076.2 1676.6a3.2 3.2 0 1 0 6.4 0a3.2 3.2 0 1 0 -6.4 0M1337.0 1676.6a3.2 3.2 0 1 0 6.4 0a3.2 3.2 0 1 0 -6.4 0M1340.8 1676.6a3.2 3.2 0 1 0 6.4 0a3.2 3.2 0 1 0 -6.4 0M1346.4 1676.6a3.2 3.2 0 1 0 6.4 0a3.2 3.2 0 1 0 -6.4 0M1350.2 1676.6a3.2 3.2 0 1 0 6.4 0a3.2 3.2 0 1 0 -6.4 0M1354.0 1676.6a3.2 3.2 0 1 0 6.4 0a3.2 3.2 0 1 0 -6.4 0M1355.9 1676.6a3.2 3.2 0 1 0 6.4 0a3.2 3.2 0 1 0 -6.4 0M1357.8 1676.6a3.2 3.2 0 1 0 6.4 0a3.2 3.2 0 1 0 -6.4 0M1367.2 1676.6a3.2 3.2 0 1 0 6.4 0a3.2 3.2 0 1 0 -6.4 0M1369.1 1676.6a3.2 3.2 0 1 0 6.4 0a3.2 3.2 0 1 0 -6.4 0M1374.8 1676.6a3.2 3.2 0 1 0 6.4 0a3.2 3.2 0 1 0 -6.4 0M1386.1 1676.6a3.2 3.2 0 1 0 6.4 0a3.2 3.2 0 1 0 -6.4 0M1388.0 1676.6a3.2 3.2 0 1 0 6.4 0a3.2 3.2 0 1 0 -6.4 0M1395.6 1676.6a3.2 3.2 0 1 0 6.4 0a3.2 3.2 0 1 0 -6.4 0M1399.4 1676.6a3.2 3.2 0 1 0 6.4 0a3.2 3.2 0 1 0 -6.4 0M1414.5 1676.6a3.2 3.2 0 1 0 6.4 0a3.2 3.2 0 1 0 -6.4 0M1078.1 1676.6a3.2 3.2 0 1 0 6.4 0a3.2 3.2 0 1 0 -6.4 0M1080.0 1676.6a3.2 3.2 0 1 0 6.4 0a3.2 3.2 0 1 0 -6.4 0M1081.8 1676.6a3.2 3.2 0 1 0 6.4 0a3.2 3.2 0 1 0 -6.4 0M1331.3 1676.6a3.2 3.2 0 1 0 6.4 0a3.2 3.2 0 1 0 -6.4 0M1333.2 1676.6a3.2 3.2 0 1 0 6.4 0a3.2 3.2 0 1 0 -6.4 0M1335.1 1676.6a3.2 3.2 0 1 0 6.4 0a3.2 3.2 0 1 0 -6.4 0" fill="none" stroke="#1a1a1a" stroke-width="0.9"/>
</svg></body></html>
